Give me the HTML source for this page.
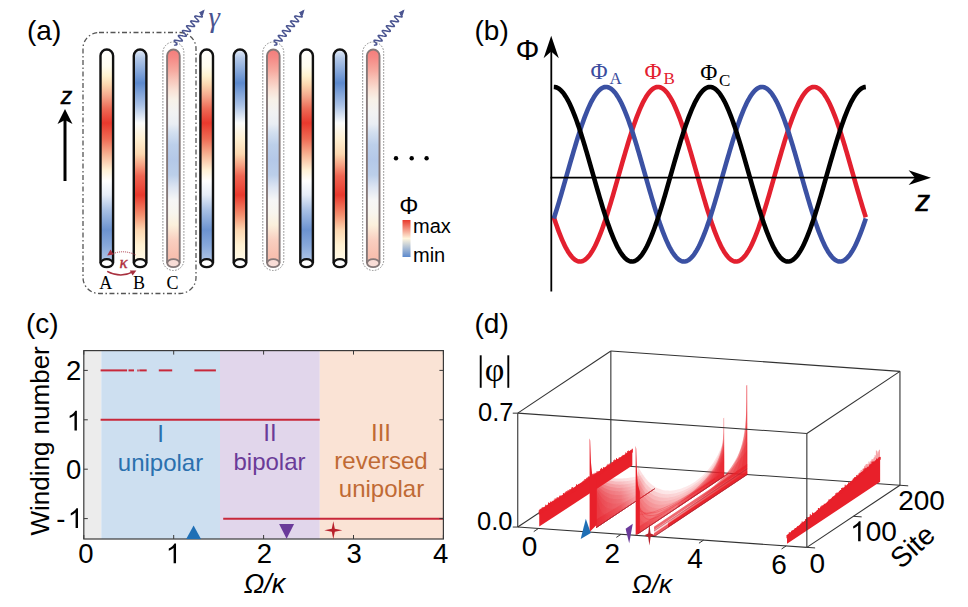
<!DOCTYPE html>
<html><head><meta charset="utf-8"><style>html,body{margin:0;padding:0;background:#fff;}svg{display:block;}</style></head>
<body><svg width="968" height="607" viewBox="0 0 968 607">
<defs><linearGradient id="gA" gradientUnits="userSpaceOnUse" x1="0" y1="48" x2="0" y2="263"><stop offset="0.0000" stop-color="#ffffff"/><stop offset="0.0837" stop-color="#fffdf0"/><stop offset="0.1302" stop-color="#fff3cf"/><stop offset="0.1721" stop-color="#fcd6ae"/><stop offset="0.2233" stop-color="#f5a88c"/><stop offset="0.2837" stop-color="#ee6a55"/><stop offset="0.3488" stop-color="#e9392d"/><stop offset="0.4233" stop-color="#ef6c55"/><stop offset="0.4977" stop-color="#f7b595"/><stop offset="0.5674" stop-color="#fff1d6"/><stop offset="0.6186" stop-color="#ffffff"/><stop offset="0.6837" stop-color="#e6edf8"/><stop offset="0.7535" stop-color="#a9c1e5"/><stop offset="0.8465" stop-color="#6c93d0"/><stop offset="0.9163" stop-color="#86a7da"/><stop offset="1.0000" stop-color="#b2c8e8"/></linearGradient><linearGradient id="gB" gradientUnits="userSpaceOnUse" x1="0" y1="48" x2="0" y2="263"><stop offset="0.0000" stop-color="#eef2fa"/><stop offset="0.0465" stop-color="#b4c9e8"/><stop offset="0.1628" stop-color="#5c89cd"/><stop offset="0.2651" stop-color="#a9c1e5"/><stop offset="0.3488" stop-color="#fbfcfb"/><stop offset="0.4233" stop-color="#fff0d2"/><stop offset="0.4930" stop-color="#fcd8b0"/><stop offset="0.5442" stop-color="#f6a283"/><stop offset="0.5953" stop-color="#ef6552"/><stop offset="0.6837" stop-color="#e9392d"/><stop offset="0.7767" stop-color="#f4906f"/><stop offset="0.8465" stop-color="#fcd6b0"/><stop offset="0.9163" stop-color="#fff1d2"/><stop offset="1.0000" stop-color="#fffbeb"/></linearGradient><linearGradient id="gC" gradientUnits="userSpaceOnUse" x1="0" y1="48" x2="0" y2="263"><stop offset="0.0000" stop-color="#f47a78"/><stop offset="0.0465" stop-color="#f58a86"/><stop offset="0.1023" stop-color="#f6a89e"/><stop offset="0.1488" stop-color="#f8c6ba"/><stop offset="0.1953" stop-color="#f9e0d4"/><stop offset="0.2419" stop-color="#f7f1e8"/><stop offset="0.2977" stop-color="#f2f2f2"/><stop offset="0.3535" stop-color="#eaeef4"/><stop offset="0.3907" stop-color="#d4e0f0"/><stop offset="0.4512" stop-color="#bccfea"/><stop offset="0.5209" stop-color="#b4c8e8"/><stop offset="0.5907" stop-color="#bccfea"/><stop offset="0.6465" stop-color="#dce4f2"/><stop offset="0.7070" stop-color="#f6f6f6"/><stop offset="0.7674" stop-color="#f8f5ee"/><stop offset="0.8233" stop-color="#fbf0dc"/><stop offset="0.8930" stop-color="#f9cfc0"/><stop offset="0.9628" stop-color="#f8c0b0"/><stop offset="1.0000" stop-color="#f6bcae"/></linearGradient><linearGradient id="gBar" x1="0" y1="0" x2="0" y2="1"><stop offset="0.0000" stop-color="#e8382c"/><stop offset="0.5000" stop-color="#fff5dc"/><stop offset="1.0000" stop-color="#5c89cd"/></linearGradient><linearGradient id="m1s" gradientUnits="userSpaceOnUse" x1="14" y1="0" x2="120" y2="0"><stop offset="0" stop-color="#fff" stop-opacity="1"/><stop offset="0.5" stop-color="#fff" stop-opacity="0.8"/><stop offset="0.8" stop-color="#fff" stop-opacity="0.45"/><stop offset="1" stop-color="#fff" stop-opacity="0"/></linearGradient><mask id="mk1" maskUnits="userSpaceOnUse" x="-50" y="-50" width="400" height="200"><rect x="-50" y="-50" width="400" height="200" fill="url(#m1s)"/></mask><linearGradient id="z2" gradientUnits="userSpaceOnUse" x1="0" y1="0" x2="0" y2="30"><stop offset="0" stop-color="#e8202a" stop-opacity="0.6"/><stop offset="0.3" stop-color="#e8202a" stop-opacity="0.35"/><stop offset="1" stop-color="#e8202a" stop-opacity="0.08"/></linearGradient><linearGradient id="m2s" gradientUnits="userSpaceOnUse" x1="0" y1="0" x2="190" y2="0"><stop offset="0" stop-color="#fff" stop-opacity="1"/><stop offset="0.25" stop-color="#fff" stop-opacity="0.8"/><stop offset="0.5" stop-color="#fff" stop-opacity="0.65"/><stop offset="0.8" stop-color="#fff" stop-opacity="0.8"/><stop offset="1" stop-color="#fff" stop-opacity="1"/></linearGradient><mask id="mk2" maskUnits="userSpaceOnUse" x="-50" y="-50" width="400" height="200"><rect x="-50" y="-50" width="400" height="200" fill="url(#m2s)"/></mask><linearGradient id="c2" gradientUnits="userSpaceOnUse" x1="0" y1="0" x2="190" y2="0"><stop offset="0" stop-color="#e8202a" stop-opacity="1"/><stop offset="0.3" stop-color="#e8202a" stop-opacity="0.85"/><stop offset="0.55" stop-color="#e8202a" stop-opacity="0.6"/><stop offset="0.8" stop-color="#e8202a" stop-opacity="0.75"/><stop offset="1" stop-color="#e8202a" stop-opacity="0.9"/></linearGradient></defs>
<rect width="968" height="607" fill="#fff"/>
<text x="27" y="39.7" font-size="28" font-family="'Liberation Sans', sans-serif">(a)</text>
<line x1="65" y1="181" x2="65" y2="118" stroke="#000" stroke-width="3"/>
<path d="M65 109 L72.5 124 L65 120 L57.5 124 Z" fill="#000"/>
<text x="66.5" y="103.6" font-size="23" text-anchor="middle" font-family="'Liberation Sans', sans-serif" font-style="italic" stroke="#000" stroke-width="0.5">z</text>
<rect x="83" y="32.5" width="113" height="261" rx="16" fill="none" stroke="#555" stroke-width="1.3" stroke-dasharray="5 2.5 1.5 2.5"/>
<path d="M100.50 263.2 L100.50 55.8 A6.3 6.3 0 0 1 113.10 55.8 L113.10 263.2 Z" fill="url(#gA)" stroke="none"/>
<path d="M100.50 263.2 L100.50 55.8 A6.3 6.3 0 0 1 113.10 55.8 L113.10 263.2" fill="none" stroke="#111" stroke-width="2.4"/>
<ellipse cx="106.80" cy="263.2" rx="6.1" ry="4" fill="#fff" stroke="#111" stroke-width="2.3"/>
<path d="M133.80 263.2 L133.80 55.8 A6.3 6.3 0 0 1 146.40 55.8 L146.40 263.2 Z" fill="url(#gB)" stroke="none"/>
<path d="M133.80 263.2 L133.80 55.8 A6.3 6.3 0 0 1 146.40 55.8 L146.40 263.2" fill="none" stroke="#111" stroke-width="2.4"/>
<ellipse cx="140.10" cy="263.2" rx="6.1" ry="4" fill="#fff" stroke="#111" stroke-width="2.3"/>
<rect x="162.9" y="42" width="21" height="228.5" rx="10.5" fill="none" stroke="#8a8a8a" stroke-width="1" stroke-dasharray="1.6 1.4"/>
<path d="M167.10 263.2 L167.10 55.8 A6.3 6.3 0 0 1 179.70 55.8 L179.70 263.2 Z" fill="url(#gC)" stroke="none"/>
<path d="M167.10 263.2 L167.10 55.8 A6.3 6.3 0 0 1 179.70 55.8 L179.70 263.2" fill="none" stroke="#857878" stroke-width="1.9"/>
<ellipse cx="173.40" cy="263.2" rx="6.1" ry="4" fill="#f8dcd6" stroke="#857878" stroke-width="1.8"/>
<path d="M200.40 263.2 L200.40 55.8 A6.3 6.3 0 0 1 213.00 55.8 L213.00 263.2 Z" fill="url(#gA)" stroke="none"/>
<path d="M200.40 263.2 L200.40 55.8 A6.3 6.3 0 0 1 213.00 55.8 L213.00 263.2" fill="none" stroke="#111" stroke-width="2.4"/>
<ellipse cx="206.70" cy="263.2" rx="6.1" ry="4" fill="#fff" stroke="#111" stroke-width="2.3"/>
<path d="M233.70 263.2 L233.70 55.8 A6.3 6.3 0 0 1 246.30 55.8 L246.30 263.2 Z" fill="url(#gB)" stroke="none"/>
<path d="M233.70 263.2 L233.70 55.8 A6.3 6.3 0 0 1 246.30 55.8 L246.30 263.2" fill="none" stroke="#111" stroke-width="2.4"/>
<ellipse cx="240.00" cy="263.2" rx="6.1" ry="4" fill="#fff" stroke="#111" stroke-width="2.3"/>
<rect x="262.8" y="42" width="21" height="228.5" rx="10.5" fill="none" stroke="#8a8a8a" stroke-width="1" stroke-dasharray="1.6 1.4"/>
<path d="M267.00 263.2 L267.00 55.8 A6.3 6.3 0 0 1 279.60 55.8 L279.60 263.2 Z" fill="url(#gC)" stroke="none"/>
<path d="M267.00 263.2 L267.00 55.8 A6.3 6.3 0 0 1 279.60 55.8 L279.60 263.2" fill="none" stroke="#857878" stroke-width="1.9"/>
<ellipse cx="273.30" cy="263.2" rx="6.1" ry="4" fill="#f8dcd6" stroke="#857878" stroke-width="1.8"/>
<path d="M300.30 263.2 L300.30 55.8 A6.3 6.3 0 0 1 312.90 55.8 L312.90 263.2 Z" fill="url(#gA)" stroke="none"/>
<path d="M300.30 263.2 L300.30 55.8 A6.3 6.3 0 0 1 312.90 55.8 L312.90 263.2" fill="none" stroke="#111" stroke-width="2.4"/>
<ellipse cx="306.60" cy="263.2" rx="6.1" ry="4" fill="#fff" stroke="#111" stroke-width="2.3"/>
<path d="M333.60 263.2 L333.60 55.8 A6.3 6.3 0 0 1 346.20 55.8 L346.20 263.2 Z" fill="url(#gB)" stroke="none"/>
<path d="M333.60 263.2 L333.60 55.8 A6.3 6.3 0 0 1 346.20 55.8 L346.20 263.2" fill="none" stroke="#111" stroke-width="2.4"/>
<ellipse cx="339.90" cy="263.2" rx="6.1" ry="4" fill="#fff" stroke="#111" stroke-width="2.3"/>
<rect x="362.7" y="42" width="21" height="228.5" rx="10.5" fill="none" stroke="#8a8a8a" stroke-width="1" stroke-dasharray="1.6 1.4"/>
<path d="M366.90 263.2 L366.90 55.8 A6.3 6.3 0 0 1 379.50 55.8 L379.50 263.2 Z" fill="url(#gC)" stroke="none"/>
<path d="M366.90 263.2 L366.90 55.8 A6.3 6.3 0 0 1 379.50 55.8 L379.50 263.2" fill="none" stroke="#857878" stroke-width="1.9"/>
<ellipse cx="373.20" cy="263.2" rx="6.1" ry="4" fill="#f8dcd6" stroke="#857878" stroke-width="1.8"/>
<path d="M174.20 45.50 L174.41 45.33 L174.72 45.20 L175.10 45.11 L175.51 45.04 L175.94 44.97 L176.34 44.89 L176.67 44.77 L176.89 44.60 L176.98 44.36 L176.92 44.06 L176.72 43.68 L176.38 43.23 L175.93 42.73 L175.41 42.20 L174.88 41.66 L174.47 41.18 L174.27 40.80 L174.26 40.51 L174.43 40.32 L174.79 40.22 L175.33 40.21 L176.03 40.28 L176.84 40.40 L177.73 40.56 L178.65 40.73 L179.55 40.90 L180.38 41.03 L181.11 41.11 L181.69 41.12 L182.09 41.04 L182.31 40.87 L182.34 40.60 L182.18 40.25 L181.87 39.81 L181.42 39.31 L180.88 38.77 L180.30 38.20 L179.72 37.64 L179.19 37.10 L178.76 36.61 L178.47 36.19 L178.34 35.85 L178.40 35.59 L178.64 35.44 L179.08 35.37 L179.68 35.39 L180.42 35.48 L181.27 35.62 L182.18 35.79 L183.10 35.97 L183.98 36.12 L184.77 36.24 L185.45 36.29 L185.96 36.27 L186.30 36.15 L186.44 35.94 L186.40 35.64 L186.17 35.26 L185.80 34.79 L185.32 34.28 L184.75 33.72 L184.17 33.15 L183.60 32.60 L183.11 32.07 L182.73 31.61 L182.49 31.21 L182.43 30.90 L182.56 30.69 L182.88 30.57 L183.39 30.54 L184.05 30.59 L184.84 30.70 L185.71 30.85 L186.63 31.02 L187.54 31.19 L188.39 31.34 L189.14 31.43 L189.76 31.46 L190.21 31.40 L190.47 31.25 L190.54 31.01 L190.43 30.67 L190.14 30.25 L189.72 29.77 L189.20 29.23 L188.63 28.67 L188.04 28.10 L187.50 27.55 L187.04 27.05 L186.71 26.61 L186.55 26.25 L186.56 25.98 L186.76 25.80 L187.15 25.71 L187.72 25.71 L188.43 25.79 L189.26 25.92 L190.16 26.08 L191.08 26.26 L191.97 26.42 L192.79 26.55 L193.50 26.62 L194.05 26.61 L194.43 26.52 L194.62 26.33 L194.61 26.05 L194.43 25.68 L194.09 25.24 L193.63 24.73 L193.08 24.18 L192.49 23.61 L191.92 23.05 L191.41 22.52 L190.99 22.04 L190.72 21.63 L190.62 21.30 L190.71 21.06 L190.99 20.92 L191.45 20.87 L192.07 20.90 L192.84 21.00 L193.70 21.14 L194.61 21.32 L195.52 21.49 L196.39 21.64 L197.17 21.75 L197.82 21.79 L198.31 21.75 L198.62 21.62 L198.73 21.40 L198.66 21.09 L198.41 20.69 L198.02 20.22 L197.52 19.69 L196.95 19.13 L196.37 18.56 L195.81 18.01 L195.33 17.49 L194.97 17.04 L194.76 16.66 L194.73 16.36 L194.89 16.16 L195.24 16.06 L195.77 16.04 L196.45 16.10 L197.25 16.22 L198.14 16.37 L199.06 16.55 L199.96 16.72 L200.80 16.85 L201.54 16.94 L202.09 16.93 L202.26 16.74 L202.23 16.45 L202.05 16.08 L201.78 15.66 L201.47 15.23 L201.17 14.81 L200.94 14.42 L200.82 14.08 L203.41 11.03" fill="none" stroke="#4a5490" stroke-width="1.5" stroke-linejoin="round"/>
<path d="M204.70 9.50 L202.81 15.76 L198.84 12.40 Z" fill="#4a5490"/>
<path d="M274.10 45.50 L274.31 45.33 L274.62 45.20 L275.00 45.11 L275.41 45.04 L275.84 44.97 L276.24 44.89 L276.57 44.77 L276.79 44.60 L276.88 44.36 L276.82 44.06 L276.62 43.68 L276.28 43.23 L275.83 42.73 L275.31 42.20 L274.78 41.66 L274.37 41.18 L274.17 40.80 L274.16 40.51 L274.33 40.32 L274.69 40.22 L275.23 40.21 L275.93 40.28 L276.74 40.40 L277.63 40.56 L278.55 40.73 L279.45 40.90 L280.28 41.03 L281.01 41.11 L281.59 41.12 L281.99 41.04 L282.21 40.87 L282.24 40.60 L282.08 40.25 L281.77 39.81 L281.32 39.31 L280.78 38.77 L280.20 38.20 L279.62 37.64 L279.09 37.10 L278.66 36.61 L278.37 36.19 L278.24 35.85 L278.30 35.59 L278.54 35.44 L278.98 35.37 L279.58 35.39 L280.32 35.48 L281.17 35.62 L282.08 35.79 L283.00 35.97 L283.88 36.12 L284.67 36.24 L285.35 36.29 L285.86 36.27 L286.20 36.15 L286.34 35.94 L286.30 35.64 L286.07 35.26 L285.70 34.79 L285.22 34.28 L284.65 33.72 L284.07 33.15 L283.50 32.60 L283.01 32.07 L282.63 31.61 L282.39 31.21 L282.33 30.90 L282.46 30.69 L282.78 30.57 L283.29 30.54 L283.95 30.59 L284.74 30.70 L285.61 30.85 L286.53 31.02 L287.44 31.19 L288.29 31.34 L289.04 31.43 L289.66 31.46 L290.11 31.40 L290.37 31.25 L290.44 31.01 L290.33 30.67 L290.04 30.25 L289.62 29.77 L289.10 29.23 L288.53 28.67 L287.94 28.10 L287.40 27.55 L286.94 27.05 L286.61 26.61 L286.45 26.25 L286.46 25.98 L286.66 25.80 L287.05 25.71 L287.62 25.71 L288.33 25.79 L289.16 25.92 L290.06 26.08 L290.98 26.26 L291.87 26.42 L292.69 26.55 L293.40 26.62 L293.95 26.61 L294.33 26.52 L294.52 26.33 L294.51 26.05 L294.33 25.68 L293.99 25.24 L293.53 24.73 L292.98 24.18 L292.39 23.61 L291.82 23.05 L291.31 22.52 L290.89 22.04 L290.62 21.63 L290.52 21.30 L290.61 21.06 L290.89 20.92 L291.35 20.87 L291.97 20.90 L292.74 21.00 L293.60 21.14 L294.51 21.32 L295.42 21.49 L296.29 21.64 L297.07 21.75 L297.72 21.79 L298.21 21.75 L298.52 21.62 L298.63 21.40 L298.56 21.09 L298.31 20.69 L297.92 20.22 L297.42 19.69 L296.85 19.13 L296.27 18.56 L295.71 18.01 L295.23 17.49 L294.87 17.04 L294.66 16.66 L294.63 16.36 L294.79 16.16 L295.14 16.06 L295.67 16.04 L296.35 16.10 L297.15 16.22 L298.04 16.37 L298.96 16.55 L299.86 16.72 L300.70 16.85 L301.44 16.94 L301.99 16.93 L302.16 16.74 L302.13 16.45 L301.95 16.08 L301.68 15.66 L301.37 15.23 L301.07 14.81 L300.84 14.42 L300.72 14.08 L303.31 11.03" fill="none" stroke="#4a5490" stroke-width="1.5" stroke-linejoin="round"/>
<path d="M304.60 9.50 L302.71 15.76 L298.74 12.40 Z" fill="#4a5490"/>
<path d="M374.00 45.50 L374.21 45.33 L374.52 45.20 L374.90 45.11 L375.31 45.04 L375.74 44.97 L376.14 44.89 L376.47 44.77 L376.69 44.60 L376.78 44.36 L376.72 44.06 L376.52 43.68 L376.18 43.23 L375.73 42.73 L375.21 42.20 L374.68 41.66 L374.27 41.18 L374.07 40.80 L374.06 40.51 L374.23 40.32 L374.59 40.22 L375.13 40.21 L375.83 40.28 L376.64 40.40 L377.53 40.56 L378.45 40.73 L379.35 40.90 L380.18 41.03 L380.91 41.11 L381.49 41.12 L381.89 41.04 L382.11 40.87 L382.14 40.60 L381.98 40.25 L381.67 39.81 L381.22 39.31 L380.68 38.77 L380.10 38.20 L379.52 37.64 L378.99 37.10 L378.56 36.61 L378.27 36.19 L378.14 35.85 L378.20 35.59 L378.44 35.44 L378.88 35.37 L379.48 35.39 L380.22 35.48 L381.07 35.62 L381.98 35.79 L382.90 35.97 L383.78 36.12 L384.57 36.24 L385.25 36.29 L385.76 36.27 L386.10 36.15 L386.24 35.94 L386.20 35.64 L385.97 35.26 L385.60 34.79 L385.12 34.28 L384.55 33.72 L383.97 33.15 L383.40 32.60 L382.91 32.07 L382.53 31.61 L382.29 31.21 L382.23 30.90 L382.36 30.69 L382.68 30.57 L383.19 30.54 L383.85 30.59 L384.64 30.70 L385.51 30.85 L386.43 31.02 L387.34 31.19 L388.19 31.34 L388.94 31.43 L389.56 31.46 L390.01 31.40 L390.27 31.25 L390.34 31.01 L390.23 30.67 L389.94 30.25 L389.52 29.77 L389.00 29.23 L388.43 28.67 L387.84 28.10 L387.30 27.55 L386.84 27.05 L386.51 26.61 L386.35 26.25 L386.36 25.98 L386.56 25.80 L386.95 25.71 L387.52 25.71 L388.23 25.79 L389.06 25.92 L389.96 26.08 L390.88 26.26 L391.77 26.42 L392.59 26.55 L393.30 26.62 L393.85 26.61 L394.23 26.52 L394.42 26.33 L394.41 26.05 L394.23 25.68 L393.89 25.24 L393.43 24.73 L392.88 24.18 L392.29 23.61 L391.72 23.05 L391.21 22.52 L390.79 22.04 L390.52 21.63 L390.42 21.30 L390.51 21.06 L390.79 20.92 L391.25 20.87 L391.87 20.90 L392.64 21.00 L393.50 21.14 L394.41 21.32 L395.32 21.49 L396.19 21.64 L396.97 21.75 L397.62 21.79 L398.11 21.75 L398.42 21.62 L398.53 21.40 L398.46 21.09 L398.21 20.69 L397.82 20.22 L397.32 19.69 L396.75 19.13 L396.17 18.56 L395.61 18.01 L395.13 17.49 L394.77 17.04 L394.56 16.66 L394.53 16.36 L394.69 16.16 L395.04 16.06 L395.57 16.04 L396.25 16.10 L397.05 16.22 L397.94 16.37 L398.86 16.55 L399.76 16.72 L400.60 16.85 L401.34 16.94 L401.89 16.93 L402.06 16.74 L402.03 16.45 L401.85 16.08 L401.58 15.66 L401.27 15.23 L400.97 14.81 L400.74 14.42 L400.62 14.08 L403.21 11.03" fill="none" stroke="#4a5490" stroke-width="1.5" stroke-linejoin="round"/>
<path d="M404.50 9.50 L402.61 15.76 L398.64 12.40 Z" fill="#4a5490"/>
<text x="208.5" y="26.5" font-size="29" fill="#4a5490" font-family="'Liberation Serif', serif" font-style="italic">γ</text>
<path d="M107.2 271.3 Q120.5 278.5 133.5 271.6" fill="none" stroke="#a8303f" stroke-width="1.5"/>
<path d="M136.4 270.4 L129.8 270.6 L132.6 275.6 Z" fill="#a8303f"/>
<path d="M135.5 254.8 Q124 249.5 113.5 253.5" fill="none" stroke="#a8303f" stroke-width="1" stroke-dasharray="1 1"/>
<path d="M107.2 255.4 L110.5 249.6 L113.6 254.4 Z" fill="#a8303f"/>
<text x="123.5" y="268.3" font-size="17" fill="#b0303f" stroke="#b0303f" stroke-width="0.4" text-anchor="middle" font-family="'Liberation Serif', serif" font-style="italic">κ</text>
<text x="105.8" y="288.5" font-size="18" text-anchor="middle" font-family="'Liberation Serif', serif">A</text>
<text x="139.1" y="288.5" font-size="18" text-anchor="middle" font-family="'Liberation Serif', serif">B</text>
<text x="172.4" y="288.5" font-size="18" text-anchor="middle" font-family="'Liberation Serif', serif">C</text>
<circle cx="396" cy="158.2" r="2.2" fill="#000"/>
<circle cx="411.7" cy="158.2" r="2.2" fill="#000"/>
<circle cx="426.6" cy="158.2" r="2.2" fill="#000"/>
<text x="399.2" y="214.3" font-size="24" font-family="'Liberation Sans', sans-serif">Φ</text>
<rect x="402.5" y="220" width="8" height="37" fill="url(#gBar)"/>
<text x="413" y="233" font-size="20" font-family="'Liberation Sans', sans-serif">max</text>
<text x="413" y="261.8" font-size="20" font-family="'Liberation Sans', sans-serif">min</text>
<text x="474.5" y="40" font-size="28" font-family="'Liberation Sans', sans-serif">(b)</text>
<text x="515.5" y="60.3" font-size="30" font-family="'Liberation Sans', sans-serif">Φ</text>
<text x="915.5" y="210.5" font-size="29" font-family="'Liberation Sans', sans-serif" font-style="italic" stroke="#000" stroke-width="0.7">z</text>
<path d="M553.80 217.26 L554.80 220.29 L555.80 223.23 L556.80 226.10 L557.80 228.88 L558.80 231.58 L559.80 234.18 L560.80 236.69 L561.80 239.09 L562.80 241.39 L563.80 243.58 L564.80 245.65 L565.80 247.61 L566.80 249.46 L567.80 251.18 L568.80 252.77 L569.80 254.24 L570.80 255.58 L571.80 256.78 L572.80 257.86 L573.80 258.79 L574.80 259.59 L575.80 260.25 L576.80 260.78 L577.80 261.16 L578.80 261.40 L579.80 261.50 L580.80 261.45 L581.80 261.27 L582.80 260.95 L583.80 260.48 L584.80 259.87 L585.80 259.13 L586.80 258.25 L587.80 257.23 L588.80 256.08 L589.80 254.79 L590.80 253.37 L591.80 251.83 L592.80 250.16 L593.80 248.37 L594.80 246.45 L595.80 244.42 L596.80 242.28 L597.80 240.02 L598.80 237.66 L599.80 235.20 L600.80 232.63 L601.80 229.97 L602.80 227.22 L603.80 224.39 L604.80 221.47 L605.80 218.48 L606.80 215.42 L607.80 212.29 L608.80 209.09 L609.80 205.85 L610.80 202.55 L611.80 199.20 L612.80 195.81 L613.80 192.39 L614.80 188.94 L615.80 185.46 L616.80 181.97 L617.80 178.47 L618.80 174.95 L619.80 171.44 L620.80 167.93 L621.80 164.43 L622.80 160.95 L623.80 157.49 L624.80 154.05 L625.80 150.65 L626.80 147.29 L627.80 143.97 L628.80 140.70 L629.80 137.48 L630.80 134.33 L631.80 131.24 L632.80 128.21 L633.80 125.27 L634.80 122.40 L635.80 119.62 L636.80 116.92 L637.80 114.32 L638.80 111.81 L639.80 109.41 L640.80 107.11 L641.80 104.92 L642.80 102.85 L643.80 100.89 L644.80 99.04 L645.80 97.32 L646.80 95.73 L647.80 94.26 L648.80 92.92 L649.80 91.72 L650.80 90.64 L651.80 89.71 L652.80 88.91 L653.80 88.25 L654.80 87.72 L655.80 87.34 L656.80 87.10 L657.80 87.00 L658.80 87.05 L659.80 87.23 L660.80 87.55 L661.80 88.02 L662.80 88.63 L663.80 89.37 L664.80 90.25 L665.80 91.27 L666.80 92.42 L667.80 93.71 L668.80 95.13 L669.80 96.67 L670.80 98.34 L671.80 100.13 L672.80 102.05 L673.80 104.08 L674.80 106.22 L675.80 108.48 L676.80 110.84 L677.80 113.30 L678.80 115.87 L679.80 118.53 L680.80 121.28 L681.80 124.11 L682.80 127.03 L683.80 130.02 L684.80 133.08 L685.80 136.21 L686.80 139.41 L687.80 142.65 L688.80 145.95 L689.80 149.30 L690.80 152.69 L691.80 156.11 L692.80 159.56 L693.80 163.04 L694.80 166.53 L695.80 170.03 L696.80 173.55 L697.80 177.06 L698.80 180.57 L699.80 184.07 L700.80 187.55 L701.80 191.01 L702.80 194.45 L703.80 197.85 L704.80 201.21 L705.80 204.53 L706.80 207.80 L707.80 211.02 L708.80 214.17 L709.80 217.26 L710.80 220.29 L711.80 223.23 L712.80 226.10 L713.80 228.88 L714.80 231.58 L715.80 234.18 L716.80 236.69 L717.80 239.09 L718.80 241.39 L719.80 243.58 L720.80 245.65 L721.80 247.61 L722.80 249.46 L723.80 251.18 L724.80 252.77 L725.80 254.24 L726.80 255.58 L727.80 256.78 L728.80 257.86 L729.80 258.79 L730.80 259.59 L731.80 260.25 L732.80 260.78 L733.80 261.16 L734.80 261.40 L735.80 261.50 L736.80 261.45 L737.80 261.27 L738.80 260.95 L739.80 260.48 L740.80 259.87 L741.80 259.13 L742.80 258.25 L743.80 257.23 L744.80 256.08 L745.80 254.79 L746.80 253.37 L747.80 251.83 L748.80 250.16 L749.80 248.37 L750.80 246.45 L751.80 244.42 L752.80 242.28 L753.80 240.02 L754.80 237.66 L755.80 235.20 L756.80 232.63 L757.80 229.97 L758.80 227.22 L759.80 224.39 L760.80 221.47 L761.80 218.48 L762.80 215.42 L763.80 212.29 L764.80 209.09 L765.80 205.85 L766.80 202.55 L767.80 199.20 L768.80 195.81 L769.80 192.39 L770.80 188.94 L771.80 185.46 L772.80 181.97 L773.80 178.47 L774.80 174.95 L775.80 171.44 L776.80 167.93 L777.80 164.43 L778.80 160.95 L779.80 157.49 L780.80 154.05 L781.80 150.65 L782.80 147.29 L783.80 143.97 L784.80 140.70 L785.80 137.48 L786.80 134.33 L787.80 131.24 L788.80 128.21 L789.80 125.27 L790.80 122.40 L791.80 119.62 L792.80 116.92 L793.80 114.32 L794.80 111.81 L795.80 109.41 L796.80 107.11 L797.80 104.92 L798.80 102.85 L799.80 100.89 L800.80 99.04 L801.80 97.32 L802.80 95.73 L803.80 94.26 L804.80 92.92 L805.80 91.72 L806.80 90.64 L807.80 89.71 L808.80 88.91 L809.80 88.25 L810.80 87.72 L811.80 87.34 L812.80 87.10 L813.80 87.00 L814.80 87.05 L815.80 87.23 L816.80 87.55 L817.80 88.02 L818.80 88.63 L819.80 89.37 L820.80 90.25 L821.80 91.27 L822.80 92.42 L823.80 93.71 L824.80 95.13 L825.80 96.67 L826.80 98.34 L827.80 100.13 L828.80 102.05 L829.80 104.08 L830.80 106.22 L831.80 108.48 L832.80 110.84 L833.80 113.30 L834.80 115.87 L835.80 118.53 L836.80 121.28 L837.80 124.11 L838.80 127.03 L839.80 130.02 L840.80 133.08 L841.80 136.21 L842.80 139.41 L843.80 142.65 L844.80 145.95 L845.80 149.30 L846.80 152.69 L847.80 156.11 L848.80 159.56 L849.80 163.04 L850.80 166.53 L851.80 170.03 L852.80 173.55 L853.80 177.06 L854.80 180.57 L855.80 184.07 L856.80 187.55 L857.80 191.01 L858.80 194.45 L859.80 197.85 L860.80 201.21 L861.80 204.53 L862.80 207.80 L863.80 211.02 L864.80 214.17 L865.80 217.26" fill="none" stroke="#e3202f" stroke-width="4.6" stroke-linejoin="round"/>
<path d="M553.80 218.48 L554.80 215.42 L555.80 212.29 L556.80 209.09 L557.80 205.85 L558.80 202.55 L559.80 199.20 L560.80 195.81 L561.80 192.39 L562.80 188.94 L563.80 185.46 L564.80 181.97 L565.80 178.47 L566.80 174.95 L567.80 171.44 L568.80 167.93 L569.80 164.43 L570.80 160.95 L571.80 157.49 L572.80 154.05 L573.80 150.65 L574.80 147.29 L575.80 143.97 L576.80 140.70 L577.80 137.48 L578.80 134.33 L579.80 131.24 L580.80 128.21 L581.80 125.27 L582.80 122.40 L583.80 119.62 L584.80 116.92 L585.80 114.32 L586.80 111.81 L587.80 109.41 L588.80 107.11 L589.80 104.92 L590.80 102.85 L591.80 100.89 L592.80 99.04 L593.80 97.32 L594.80 95.73 L595.80 94.26 L596.80 92.92 L597.80 91.72 L598.80 90.64 L599.80 89.71 L600.80 88.91 L601.80 88.25 L602.80 87.72 L603.80 87.34 L604.80 87.10 L605.80 87.00 L606.80 87.05 L607.80 87.23 L608.80 87.55 L609.80 88.02 L610.80 88.63 L611.80 89.37 L612.80 90.25 L613.80 91.27 L614.80 92.42 L615.80 93.71 L616.80 95.13 L617.80 96.67 L618.80 98.34 L619.80 100.13 L620.80 102.05 L621.80 104.08 L622.80 106.22 L623.80 108.48 L624.80 110.84 L625.80 113.30 L626.80 115.87 L627.80 118.53 L628.80 121.28 L629.80 124.11 L630.80 127.03 L631.80 130.02 L632.80 133.08 L633.80 136.21 L634.80 139.41 L635.80 142.65 L636.80 145.95 L637.80 149.30 L638.80 152.69 L639.80 156.11 L640.80 159.56 L641.80 163.04 L642.80 166.53 L643.80 170.03 L644.80 173.55 L645.80 177.06 L646.80 180.57 L647.80 184.07 L648.80 187.55 L649.80 191.01 L650.80 194.45 L651.80 197.85 L652.80 201.21 L653.80 204.53 L654.80 207.80 L655.80 211.02 L656.80 214.17 L657.80 217.26 L658.80 220.29 L659.80 223.23 L660.80 226.10 L661.80 228.88 L662.80 231.58 L663.80 234.18 L664.80 236.69 L665.80 239.09 L666.80 241.39 L667.80 243.58 L668.80 245.65 L669.80 247.61 L670.80 249.46 L671.80 251.18 L672.80 252.77 L673.80 254.24 L674.80 255.58 L675.80 256.78 L676.80 257.86 L677.80 258.79 L678.80 259.59 L679.80 260.25 L680.80 260.78 L681.80 261.16 L682.80 261.40 L683.80 261.50 L684.80 261.45 L685.80 261.27 L686.80 260.95 L687.80 260.48 L688.80 259.87 L689.80 259.13 L690.80 258.25 L691.80 257.23 L692.80 256.08 L693.80 254.79 L694.80 253.37 L695.80 251.83 L696.80 250.16 L697.80 248.37 L698.80 246.45 L699.80 244.42 L700.80 242.28 L701.80 240.02 L702.80 237.66 L703.80 235.20 L704.80 232.63 L705.80 229.97 L706.80 227.22 L707.80 224.39 L708.80 221.47 L709.80 218.48 L710.80 215.42 L711.80 212.29 L712.80 209.09 L713.80 205.85 L714.80 202.55 L715.80 199.20 L716.80 195.81 L717.80 192.39 L718.80 188.94 L719.80 185.46 L720.80 181.97 L721.80 178.47 L722.80 174.95 L723.80 171.44 L724.80 167.93 L725.80 164.43 L726.80 160.95 L727.80 157.49 L728.80 154.05 L729.80 150.65 L730.80 147.29 L731.80 143.97 L732.80 140.70 L733.80 137.48 L734.80 134.33 L735.80 131.24 L736.80 128.21 L737.80 125.27 L738.80 122.40 L739.80 119.62 L740.80 116.92 L741.80 114.32 L742.80 111.81 L743.80 109.41 L744.80 107.11 L745.80 104.92 L746.80 102.85 L747.80 100.89 L748.80 99.04 L749.80 97.32 L750.80 95.73 L751.80 94.26 L752.80 92.92 L753.80 91.72 L754.80 90.64 L755.80 89.71 L756.80 88.91 L757.80 88.25 L758.80 87.72 L759.80 87.34 L760.80 87.10 L761.80 87.00 L762.80 87.05 L763.80 87.23 L764.80 87.55 L765.80 88.02 L766.80 88.63 L767.80 89.37 L768.80 90.25 L769.80 91.27 L770.80 92.42 L771.80 93.71 L772.80 95.13 L773.80 96.67 L774.80 98.34 L775.80 100.13 L776.80 102.05 L777.80 104.08 L778.80 106.22 L779.80 108.48 L780.80 110.84 L781.80 113.30 L782.80 115.87 L783.80 118.53 L784.80 121.28 L785.80 124.11 L786.80 127.03 L787.80 130.02 L788.80 133.08 L789.80 136.21 L790.80 139.41 L791.80 142.65 L792.80 145.95 L793.80 149.30 L794.80 152.69 L795.80 156.11 L796.80 159.56 L797.80 163.04 L798.80 166.53 L799.80 170.03 L800.80 173.55 L801.80 177.06 L802.80 180.57 L803.80 184.07 L804.80 187.55 L805.80 191.01 L806.80 194.45 L807.80 197.85 L808.80 201.21 L809.80 204.53 L810.80 207.80 L811.80 211.02 L812.80 214.17 L813.80 217.26 L814.80 220.29 L815.80 223.23 L816.80 226.10 L817.80 228.88 L818.80 231.58 L819.80 234.18 L820.80 236.69 L821.80 239.09 L822.80 241.39 L823.80 243.58 L824.80 245.65 L825.80 247.61 L826.80 249.46 L827.80 251.18 L828.80 252.77 L829.80 254.24 L830.80 255.58 L831.80 256.78 L832.80 257.86 L833.80 258.79 L834.80 259.59 L835.80 260.25 L836.80 260.78 L837.80 261.16 L838.80 261.40 L839.80 261.50 L840.80 261.45 L841.80 261.27 L842.80 260.95 L843.80 260.48 L844.80 259.87 L845.80 259.13 L846.80 258.25 L847.80 257.23 L848.80 256.08 L849.80 254.79 L850.80 253.37 L851.80 251.83 L852.80 250.16 L853.80 248.37 L854.80 246.45 L855.80 244.42 L856.80 242.28 L857.80 240.02 L858.80 237.66 L859.80 235.20 L860.80 232.63 L861.80 229.97 L862.80 227.22 L863.80 224.39 L864.80 221.47 L865.80 218.48" fill="none" stroke="#3b51a3" stroke-width="4.6" stroke-linejoin="round"/>
<path d="M553.80 87.00 L554.80 87.05 L555.80 87.23 L556.80 87.55 L557.80 88.02 L558.80 88.63 L559.80 89.37 L560.80 90.25 L561.80 91.27 L562.80 92.42 L563.80 93.71 L564.80 95.13 L565.80 96.67 L566.80 98.34 L567.80 100.13 L568.80 102.05 L569.80 104.08 L570.80 106.22 L571.80 108.48 L572.80 110.84 L573.80 113.30 L574.80 115.87 L575.80 118.53 L576.80 121.28 L577.80 124.11 L578.80 127.03 L579.80 130.02 L580.80 133.08 L581.80 136.21 L582.80 139.41 L583.80 142.65 L584.80 145.95 L585.80 149.30 L586.80 152.69 L587.80 156.11 L588.80 159.56 L589.80 163.04 L590.80 166.53 L591.80 170.03 L592.80 173.55 L593.80 177.06 L594.80 180.57 L595.80 184.07 L596.80 187.55 L597.80 191.01 L598.80 194.45 L599.80 197.85 L600.80 201.21 L601.80 204.53 L602.80 207.80 L603.80 211.02 L604.80 214.17 L605.80 217.26 L606.80 220.29 L607.80 223.23 L608.80 226.10 L609.80 228.88 L610.80 231.58 L611.80 234.18 L612.80 236.69 L613.80 239.09 L614.80 241.39 L615.80 243.58 L616.80 245.65 L617.80 247.61 L618.80 249.46 L619.80 251.18 L620.80 252.77 L621.80 254.24 L622.80 255.58 L623.80 256.78 L624.80 257.86 L625.80 258.79 L626.80 259.59 L627.80 260.25 L628.80 260.78 L629.80 261.16 L630.80 261.40 L631.80 261.50 L632.80 261.45 L633.80 261.27 L634.80 260.95 L635.80 260.48 L636.80 259.87 L637.80 259.13 L638.80 258.25 L639.80 257.23 L640.80 256.08 L641.80 254.79 L642.80 253.37 L643.80 251.83 L644.80 250.16 L645.80 248.37 L646.80 246.45 L647.80 244.42 L648.80 242.28 L649.80 240.02 L650.80 237.66 L651.80 235.20 L652.80 232.63 L653.80 229.97 L654.80 227.22 L655.80 224.39 L656.80 221.47 L657.80 218.48 L658.80 215.42 L659.80 212.29 L660.80 209.09 L661.80 205.85 L662.80 202.55 L663.80 199.20 L664.80 195.81 L665.80 192.39 L666.80 188.94 L667.80 185.46 L668.80 181.97 L669.80 178.47 L670.80 174.95 L671.80 171.44 L672.80 167.93 L673.80 164.43 L674.80 160.95 L675.80 157.49 L676.80 154.05 L677.80 150.65 L678.80 147.29 L679.80 143.97 L680.80 140.70 L681.80 137.48 L682.80 134.33 L683.80 131.24 L684.80 128.21 L685.80 125.27 L686.80 122.40 L687.80 119.62 L688.80 116.92 L689.80 114.32 L690.80 111.81 L691.80 109.41 L692.80 107.11 L693.80 104.92 L694.80 102.85 L695.80 100.89 L696.80 99.04 L697.80 97.32 L698.80 95.73 L699.80 94.26 L700.80 92.92 L701.80 91.72 L702.80 90.64 L703.80 89.71 L704.80 88.91 L705.80 88.25 L706.80 87.72 L707.80 87.34 L708.80 87.10 L709.80 87.00 L710.80 87.05 L711.80 87.23 L712.80 87.55 L713.80 88.02 L714.80 88.63 L715.80 89.37 L716.80 90.25 L717.80 91.27 L718.80 92.42 L719.80 93.71 L720.80 95.13 L721.80 96.67 L722.80 98.34 L723.80 100.13 L724.80 102.05 L725.80 104.08 L726.80 106.22 L727.80 108.48 L728.80 110.84 L729.80 113.30 L730.80 115.87 L731.80 118.53 L732.80 121.28 L733.80 124.11 L734.80 127.03 L735.80 130.02 L736.80 133.08 L737.80 136.21 L738.80 139.41 L739.80 142.65 L740.80 145.95 L741.80 149.30 L742.80 152.69 L743.80 156.11 L744.80 159.56 L745.80 163.04 L746.80 166.53 L747.80 170.03 L748.80 173.55 L749.80 177.06 L750.80 180.57 L751.80 184.07 L752.80 187.55 L753.80 191.01 L754.80 194.45 L755.80 197.85 L756.80 201.21 L757.80 204.53 L758.80 207.80 L759.80 211.02 L760.80 214.17 L761.80 217.26 L762.80 220.29 L763.80 223.23 L764.80 226.10 L765.80 228.88 L766.80 231.58 L767.80 234.18 L768.80 236.69 L769.80 239.09 L770.80 241.39 L771.80 243.58 L772.80 245.65 L773.80 247.61 L774.80 249.46 L775.80 251.18 L776.80 252.77 L777.80 254.24 L778.80 255.58 L779.80 256.78 L780.80 257.86 L781.80 258.79 L782.80 259.59 L783.80 260.25 L784.80 260.78 L785.80 261.16 L786.80 261.40 L787.80 261.50 L788.80 261.45 L789.80 261.27 L790.80 260.95 L791.80 260.48 L792.80 259.87 L793.80 259.13 L794.80 258.25 L795.80 257.23 L796.80 256.08 L797.80 254.79 L798.80 253.37 L799.80 251.83 L800.80 250.16 L801.80 248.37 L802.80 246.45 L803.80 244.42 L804.80 242.28 L805.80 240.02 L806.80 237.66 L807.80 235.20 L808.80 232.63 L809.80 229.97 L810.80 227.22 L811.80 224.39 L812.80 221.47 L813.80 218.48 L814.80 215.42 L815.80 212.29 L816.80 209.09 L817.80 205.85 L818.80 202.55 L819.80 199.20 L820.80 195.81 L821.80 192.39 L822.80 188.94 L823.80 185.46 L824.80 181.97 L825.80 178.47 L826.80 174.95 L827.80 171.44 L828.80 167.93 L829.80 164.43 L830.80 160.95 L831.80 157.49 L832.80 154.05 L833.80 150.65 L834.80 147.29 L835.80 143.97 L836.80 140.70 L837.80 137.48 L838.80 134.33 L839.80 131.24 L840.80 128.21 L841.80 125.27 L842.80 122.40 L843.80 119.62 L844.80 116.92 L845.80 114.32 L846.80 111.81 L847.80 109.41 L848.80 107.11 L849.80 104.92 L850.80 102.85 L851.80 100.89 L852.80 99.04 L853.80 97.32 L854.80 95.73 L855.80 94.26 L856.80 92.92 L857.80 91.72 L858.80 90.64 L859.80 89.71 L860.80 88.91 L861.80 88.25 L862.80 87.72 L863.80 87.34 L864.80 87.10 L865.80 87.00" fill="none" stroke="#000" stroke-width="4.6" stroke-linejoin="round"/>
<line x1="551.3" y1="291.5" x2="551.3" y2="50" stroke="#000" stroke-width="1.8"/>
<path d="M551.2 35.8 L558.8 58.3 L551.2 51.5 L543.6 58.3 Z" fill="#000"/>
<line x1="550.5" y1="177.7" x2="918" y2="177.7" stroke="#000" stroke-width="1.8"/>
<path d="M931 177.7 L908.6 170.3 L915 177.7 L908.6 185.1 Z" fill="#000"/>
<text x="590.5" y="78.6" font-size="23.4" fill="#3b4d9e" font-family="'Liberation Serif', serif">Φ</text>
<text x="609.4" y="83.5" font-size="17" fill="#3b4d9e" font-family="'Liberation Serif', serif">A</text>
<text x="644.5" y="78.6" font-size="23.4" fill="#e3202f" font-family="'Liberation Serif', serif">Φ</text>
<text x="663.4" y="83.5" font-size="17" fill="#e3202f" font-family="'Liberation Serif', serif">B</text>
<text x="700.2" y="79.89999999999999" font-size="23.4" fill="#000" font-family="'Liberation Serif', serif">Φ</text>
<text x="719.1" y="85.6" font-size="17" fill="#000" font-family="'Liberation Serif', serif">C</text>
<text x="26" y="332.5" font-size="28" font-family="'Liberation Sans', sans-serif">(c)</text>
<rect x="83.8" y="350.6" width="17.53" height="188.39999999999998" fill="#ececec"/>
<rect x="101.33" y="350.6" width="118.67" height="188.39999999999998" fill="#cddff0"/>
<rect x="220.00" y="350.6" width="99.79" height="188.39999999999998" fill="#e1d6eb"/>
<rect x="319.79" y="350.6" width="123.61" height="188.39999999999998" fill="#fae3d5"/>
<line x1="100.6" y1="370.4" x2="127.1" y2="370.4" stroke="#c8283a" stroke-width="2"/>
<line x1="128.5" y1="370.4" x2="134" y2="370.4" stroke="#c8283a" stroke-width="2"/>
<line x1="137.3" y1="370.4" x2="138.7" y2="370.4" stroke="#c8283a" stroke-width="2"/>
<line x1="139.3" y1="370.4" x2="146.7" y2="370.4" stroke="#c8283a" stroke-width="2"/>
<line x1="158.8" y1="370.4" x2="172.2" y2="370.4" stroke="#c8283a" stroke-width="2"/>
<line x1="194.4" y1="370.4" x2="215.9" y2="370.4" stroke="#c8283a" stroke-width="2"/>
<line x1="100.6" y1="419.8" x2="319.79" y2="419.8" stroke="#c8283a" stroke-width="2"/>
<line x1="223.2" y1="518.8" x2="443.4" y2="518.8" stroke="#c8283a" stroke-width="2"/>
<rect x="83.8" y="350.6" width="359.59999999999997" height="188.39999999999998" fill="none" stroke="#3a3a3a" stroke-width="1.2"/>
<line x1="83.80" y1="539.0" x2="83.80" y2="535.0" stroke="#3a3a3a" stroke-width="1"/>
<line x1="83.80" y1="350.6" x2="83.80" y2="354.6" stroke="#3a3a3a" stroke-width="1"/>
<text x="86.00" y="563.3" font-size="27.5" text-anchor="middle" font-family="'Liberation Sans', sans-serif">0</text>
<line x1="173.70" y1="539.0" x2="173.70" y2="535.0" stroke="#3a3a3a" stroke-width="1"/>
<line x1="173.70" y1="350.6" x2="173.70" y2="354.6" stroke="#3a3a3a" stroke-width="1"/>
<path transform="translate(165.78 563.30) scale(0.01343 -0.01343)" d="M763 0H583V1147Q518 1085 412.5 1023T223 930V1104Q374 1175 487 1276T647 1472H763Z" fill="#000"/>
<line x1="263.60" y1="539.0" x2="263.60" y2="535.0" stroke="#3a3a3a" stroke-width="1"/>
<line x1="263.60" y1="350.6" x2="263.60" y2="354.6" stroke="#3a3a3a" stroke-width="1"/>
<text x="264.40" y="563.3" font-size="27.5" text-anchor="middle" font-family="'Liberation Sans', sans-serif">2</text>
<line x1="353.50" y1="539.0" x2="353.50" y2="535.0" stroke="#3a3a3a" stroke-width="1"/>
<line x1="353.50" y1="350.6" x2="353.50" y2="354.6" stroke="#3a3a3a" stroke-width="1"/>
<text x="354.20" y="563.3" font-size="27.5" text-anchor="middle" font-family="'Liberation Sans', sans-serif">3</text>
<line x1="443.40" y1="539.0" x2="443.40" y2="535.0" stroke="#3a3a3a" stroke-width="1"/>
<line x1="443.40" y1="350.6" x2="443.40" y2="354.6" stroke="#3a3a3a" stroke-width="1"/>
<text x="440.60" y="563.3" font-size="27.5" text-anchor="middle" font-family="'Liberation Sans', sans-serif">4</text>
<line x1="83.8" y1="518.60" x2="87.8" y2="518.60" stroke="#3a3a3a" stroke-width="1"/>
<line x1="443.4" y1="518.60" x2="439.4" y2="518.60" stroke="#3a3a3a" stroke-width="1"/>
<path transform="translate(67.75 528.00) scale(0.01343 -0.01343)" d="M763 0H583V1147Q518 1085 412.5 1023T223 930V1104Q374 1175 487 1276T647 1472H763Z" fill="#000"/>
<text x="56.3" y="528.0" font-size="27.5" font-family="'Liberation Sans', sans-serif">-</text>
<line x1="83.8" y1="469.20" x2="87.8" y2="469.20" stroke="#3a3a3a" stroke-width="1"/>
<line x1="443.4" y1="469.20" x2="439.4" y2="469.20" stroke="#3a3a3a" stroke-width="1"/>
<text x="81.3" y="479.00" font-size="27.5" text-anchor="end" font-family="'Liberation Sans', sans-serif">0</text>
<line x1="83.8" y1="419.80" x2="87.8" y2="419.80" stroke="#3a3a3a" stroke-width="1"/>
<line x1="443.4" y1="419.80" x2="439.4" y2="419.80" stroke="#3a3a3a" stroke-width="1"/>
<path transform="translate(66.65 430.60) scale(0.01343 -0.01343)" d="M763 0H583V1147Q518 1085 412.5 1023T223 930V1104Q374 1175 487 1276T647 1472H763Z" fill="#000"/>
<line x1="83.8" y1="370.40" x2="87.8" y2="370.40" stroke="#3a3a3a" stroke-width="1"/>
<line x1="443.4" y1="370.40" x2="439.4" y2="370.40" stroke="#3a3a3a" stroke-width="1"/>
<text x="81.3" y="380.20" font-size="27.5" text-anchor="end" font-family="'Liberation Sans', sans-serif">2</text>
<text x="264.5" y="593.4" font-size="27" text-anchor="middle" font-family="'Liberation Sans', sans-serif" font-style="italic">Ω/κ</text>
<text transform="translate(48.8 440.9) rotate(-90)" font-size="26" text-anchor="middle" font-family="'Liberation Sans', sans-serif">Winding number</text>
<text x="160.5" y="441.7" font-size="24" text-anchor="middle" fill="#2a70ae" font-family="'Liberation Sans', sans-serif">I</text>
<text x="160.5" y="471.3" font-size="24" text-anchor="middle" fill="#2a70ae" font-family="'Liberation Sans', sans-serif">unipolar</text>
<text x="270" y="440.9" font-size="24" text-anchor="middle" fill="#6a3b98" font-family="'Liberation Sans', sans-serif">II</text>
<text x="269.5" y="469.9" font-size="24" text-anchor="middle" fill="#6a3b98" font-family="'Liberation Sans', sans-serif">bipolar</text>
<text x="381" y="440.9" font-size="24" text-anchor="middle" fill="#c06a34" font-family="'Liberation Sans', sans-serif">III</text>
<text x="381" y="468.7" font-size="24" text-anchor="middle" fill="#c06a34" font-family="'Liberation Sans', sans-serif">reversed</text>
<text x="381.5" y="497.2" font-size="24" text-anchor="middle" fill="#c06a34" font-family="'Liberation Sans', sans-serif">unipolar</text>
<path d="M193.6 525.5 L201 539 L186.2 539 Z" fill="#1f6fb5"/>
<path d="M279.1 524 L294.1 524 L286.6 538.7 Z" fill="#6a3a9a"/>
<path d="M333.3 521.2 L334.8 528.7 L342.3 530.2 L334.8 531.7 L333.3 539.3 L331.8 531.7 L324.3 530.2 L331.8 528.7 Z" fill="#b8202a"/>
<text x="474.5" y="332.5" font-size="28" font-family="'Liberation Sans', sans-serif">(d)</text>
<line x1="610.85" y1="464.95" x2="899.95" y2="485.25" stroke="#333" stroke-width="1.1"/>
<line x1="610.85" y1="464.95" x2="610.85" y2="351.06" stroke="#333" stroke-width="1.1"/>
<line x1="610.85" y1="351.06" x2="899.95" y2="371.36" stroke="#333" stroke-width="1.1"/>
<line x1="899.95" y1="485.25" x2="899.95" y2="371.36" stroke="#333" stroke-width="1.1"/>
<line x1="517.75" y1="527.05" x2="610.85" y2="464.95" stroke="#333" stroke-width="1.1"/>
<g transform="matrix(0.4655 -0.3105 0 -1.627 589.61 532.10)"><g mask="url(#mk1)"><path d="M14.0 21.50 L17.5 15.55 L21.1 11.37 L24.6 8.43 L28.1 6.37 L31.7 4.92 L35.2 3.90 L38.7 3.19 L42.3 2.68 L45.8 2.33 L49.3 2.08 L52.9 1.91 L56.4 1.79 L59.9 1.70 L63.5 1.64 L67.0 1.60 L70.5 1.57 L74.1 1.55 L77.6 1.53 L81.1 1.52 L84.7 1.52 L88.2 1.51 L91.7 1.51 L95.3 1.51 L98.8 1.50 L102.3 1.50 L105.9 1.50 L109.4 1.50 L112.9 1.50 L116.5 1.50 L120.0 1.50 L120.0 0 L14.0 0 Z" fill="#e8202a" fill-opacity="0.2"/><path d="M14.0 22.83 L17.5 19.23 L21.1 16.24 L24.6 13.77 L28.1 11.71 L31.7 10.01 L35.2 8.59 L38.7 7.42 L42.3 6.45 L45.8 5.64 L49.3 4.97 L52.9 4.42 L56.4 3.96 L59.9 3.58 L63.5 3.26 L67.0 3.00 L70.5 2.78 L74.1 2.60 L77.6 2.45 L81.1 2.33 L84.7 2.22 L88.2 2.14 L91.7 2.07 L95.3 2.01 L98.8 1.96 L102.3 1.92 L105.9 1.89 L109.4 1.86 L112.9 1.83 L116.5 1.82 L120.0 1.80 L120.0 0 L14.0 0 Z" fill="#e8202a" fill-opacity="0.2"/><path d="M14.0 24.17 L17.5 21.51 L21.1 19.18 L24.6 17.12 L28.1 15.30 L31.7 13.71 L35.2 12.30 L38.7 11.07 L42.3 9.98 L45.8 9.02 L49.3 8.17 L52.9 7.43 L56.4 6.77 L59.9 6.20 L63.5 5.69 L67.0 5.24 L70.5 4.85 L74.1 4.50 L77.6 4.20 L81.1 3.93 L84.7 3.69 L88.2 3.48 L91.7 3.30 L95.3 3.14 L98.8 2.99 L102.3 2.87 L105.9 2.76 L109.4 2.66 L112.9 2.58 L116.5 2.50 L120.0 2.43 L120.0 0 L14.0 0 Z" fill="#e8202a" fill-opacity="0.2"/><path d="M14.0 25.50 L17.5 23.36 L21.1 21.41 L24.6 19.64 L28.1 18.04 L31.7 16.58 L35.2 15.25 L38.7 14.05 L42.3 12.96 L45.8 11.97 L49.3 11.07 L52.9 10.25 L56.4 9.51 L59.9 8.83 L63.5 8.22 L67.0 7.66 L70.5 7.16 L74.1 6.70 L77.6 6.28 L81.1 5.91 L84.7 5.56 L88.2 5.25 L91.7 4.97 L95.3 4.71 L98.8 4.48 L102.3 4.26 L105.9 4.07 L109.4 3.90 L112.9 3.74 L116.5 3.59 L120.0 3.46 L120.0 0 L14.0 0 Z" fill="#e8202a" fill-opacity="0.2"/><path d="M14.0 26.83 L17.5 25.01 L21.1 23.32 L24.6 21.76 L28.1 20.31 L31.7 18.98 L35.2 17.74 L38.7 16.59 L42.3 15.53 L45.8 14.55 L49.3 13.64 L52.9 12.80 L56.4 12.03 L59.9 11.31 L63.5 10.64 L67.0 10.03 L70.5 9.46 L74.1 8.93 L77.6 8.44 L81.1 7.99 L84.7 7.57 L88.2 7.18 L91.7 6.83 L95.3 6.50 L98.8 6.19 L102.3 5.91 L105.9 5.64 L109.4 5.40 L112.9 5.18 L116.5 4.97 L120.0 4.77 L120.0 0 L14.0 0 Z" fill="#e8202a" fill-opacity="0.2"/><path d="M14.0 28.17 L17.5 26.56 L21.1 25.06 L24.6 23.65 L28.1 22.32 L31.7 21.09 L35.2 19.92 L38.7 18.84 L42.3 17.82 L45.8 16.86 L49.3 15.97 L52.9 15.13 L56.4 14.34 L59.9 13.60 L63.5 12.91 L67.0 12.27 L70.5 11.66 L74.1 11.09 L77.6 10.56 L81.1 10.06 L84.7 9.59 L88.2 9.15 L91.7 8.74 L95.3 8.36 L98.8 7.99 L102.3 7.66 L105.9 7.34 L109.4 7.04 L112.9 6.76 L116.5 6.50 L120.0 6.26 L120.0 0 L14.0 0 Z" fill="#e8202a" fill-opacity="0.2"/><path d="M14.0 29.50 L17.5 28.05 L21.1 26.68 L24.6 25.39 L28.1 24.17 L31.7 23.01 L35.2 21.91 L38.7 20.88 L42.3 19.90 L45.8 18.97 L49.3 18.10 L52.9 17.27 L56.4 16.49 L59.9 15.75 L63.5 15.04 L67.0 14.38 L70.5 13.76 L74.1 13.16 L77.6 12.60 L81.1 12.07 L84.7 11.57 L88.2 11.10 L91.7 10.65 L95.3 10.22 L98.8 9.82 L102.3 9.44 L105.9 9.09 L109.4 8.75 L112.9 8.43 L116.5 8.12 L120.0 7.83 L120.0 0 L14.0 0 Z" fill="#e8202a" fill-opacity="0.2"/><path d="M14.0 30.83 L17.5 29.51 L21.1 28.24 L24.6 27.04 L28.1 25.90 L31.7 24.81 L35.2 23.77 L38.7 22.78 L42.3 21.84 L45.8 20.94 L49.3 20.09 L52.9 19.27 L56.4 18.50 L59.9 17.76 L63.5 17.06 L67.0 16.39 L70.5 15.75 L74.1 15.15 L77.6 14.57 L81.1 14.02 L84.7 13.50 L88.2 13.00 L91.7 12.52 L95.3 12.07 L98.8 11.64 L102.3 11.23 L105.9 10.84 L109.4 10.47 L112.9 10.12 L116.5 9.78 L120.0 9.46 L120.0 0 L14.0 0 Z" fill="#e8202a" fill-opacity="0.2"/><path d="M14.0 32.17 L17.5 30.94 L21.1 29.76 L24.6 28.63 L28.1 27.55 L31.7 26.51 L35.2 25.52 L38.7 24.57 L42.3 23.67 L45.8 22.80 L49.3 21.97 L52.9 21.17 L56.4 20.41 L59.9 19.68 L63.5 18.98 L67.0 18.31 L70.5 17.67 L74.1 17.05 L77.6 16.47 L81.1 15.90 L84.7 15.37 L88.2 14.85 L91.7 14.36 L95.3 13.89 L98.8 13.43 L102.3 13.00 L105.9 12.59 L109.4 12.19 L112.9 11.81 L116.5 11.45 L120.0 11.10 L120.0 0 L14.0 0 Z" fill="#e8202a" fill-opacity="0.2"/><path d="M14.0 33.50 L17.5 32.35 L21.1 31.23 L24.6 30.17 L28.1 29.14 L31.7 28.15 L35.2 27.20 L38.7 26.29 L42.3 25.41 L45.8 24.57 L49.3 23.76 L52.9 22.98 L56.4 22.23 L59.9 21.51 L63.5 20.81 L67.0 20.15 L70.5 19.51 L74.1 18.89 L77.6 18.30 L81.1 17.73 L84.7 17.18 L88.2 16.65 L91.7 16.15 L95.3 15.66 L98.8 15.19 L102.3 14.74 L105.9 14.31 L109.4 13.89 L112.9 13.49 L116.5 13.11 L120.0 12.74 L120.0 0 L14.0 0 Z" fill="#e8202a" fill-opacity="0.2"/><path d="M14.0 0.00 L120.0 0.00 L120.0 3.00 L14.0 5.00 Z" fill="#e8202a" fill-opacity="0.5"/></g><path d="M14.0 0.00 L140.0 0.00 Z" stroke="#b3202c" stroke-width="1" vector-effect="non-scaling-stroke" fill="none" opacity="0.85"/></g>
<path d="M539.23 526.61 L632.33 465.48 L632.33 449.54 L539.23 510.17 Z" fill="#e8202a"/>
<g transform="matrix(0.4655 -0.3105 0 -1.627 539.23 528.56)"><path d="M0.0 8.5V11.2M2.0 8.5V11.7M4.0 8.5V11.4M6.0 8.5V11.7M8.0 8.5V11.7M10.0 8.5V10.9M12.0 8.5V10.9M14.0 8.5V12.0M16.0 8.5V11.2M18.0 8.5V11.1M20.0 8.5V12.2M22.0 8.5V11.5M24.0 8.5V12.0M26.0 8.5V11.4M28.0 8.5V11.7M30.0 8.5V11.0M32.0 8.5V11.6M34.0 8.5V12.0M36.0 8.5V11.5M38.0 8.5V11.8M40.0 8.5V11.7M42.0 8.5V10.8M44.0 8.5V11.8M46.0 8.5V11.5M48.0 8.5V11.1M50.0 8.5V10.7M52.0 8.5V11.9M54.0 8.5V11.3M56.0 8.5V11.7M58.0 8.5V11.9M60.0 8.5V11.6M62.0 8.5V11.9M64.0 8.5V11.2M66.0 8.5V11.7M68.0 8.5V11.2M70.0 8.5V11.9M72.0 8.5V11.8M74.0 8.5V10.7M76.0 8.5V10.7M78.0 8.5V10.9M80.0 8.5V11.9M82.0 8.5V11.1M84.0 8.5V11.4M86.0 8.5V10.9M88.0 8.5V11.2M90.0 8.5V11.0M92.0 8.5V11.0M94.0 8.5V11.3M96.0 8.5V11.3M98.0 8.5V11.7M100.0 8.5V11.4M102.0 8.5V11.7M104.0 8.5V11.6M106.0 8.5V11.8M108.0 8.5V11.4M110.0 8.5V10.6M112.0 8.5V11.6M114.0 8.5V11.7M116.0 8.5V11.6M118.0 8.5V11.2M120.0 8.5V11.4M122.0 8.5V10.6M124.0 8.5V11.5M126.0 8.5V11.1M128.0 8.5V10.7M130.0 8.5V10.4M132.0 8.5V11.5M134.0 8.5V11.7M136.0 8.5V10.4M138.0 8.5V11.4M140.0 8.5V10.8M142.0 8.5V10.5M144.0 8.5V10.7M146.0 8.5V11.3M148.0 8.5V11.5M150.0 8.5V10.3M152.0 8.5V11.1M154.0 8.5V10.3M156.0 8.5V11.2M158.0 8.5V10.7M160.0 8.5V11.4M162.0 8.5V11.5M164.0 8.5V10.9M166.0 8.5V11.6M168.0 8.5V10.6M170.0 8.5V10.2M172.0 8.5V11.0M174.0 8.5V10.2M176.0 8.5V10.4M178.0 8.5V10.7M180.0 8.5V10.9M182.0 8.5V10.3M184.0 8.5V10.1M186.0 8.5V11.3M188.0 8.5V10.5M190.0 8.5V11.4M192.0 8.5V11.3M194.0 8.5V10.6M196.0 8.5V10.7M198.0 8.5V10.7M200.0 8.5V10.9" stroke="#e8202a" stroke-width="1" vector-effect="non-scaling-stroke" fill="none"/></g>
<g transform="matrix(0.4655 -0.3105 0 -1.627 589.61 532.10)"><path d="M0.0 0.00 L0.0 57.70 L1.2 56.00 L3.0 42.00 L6.0 33.00 L15.5 29.00 L15.5 1.50 L0.0 0.00 Z" fill="#e8202a"/></g>
<g transform="matrix(0.4655 -0.3105 0 -1.627 635.66 535.33)"><g mask="url(#mk2)"><path d="M4.0 13.57 L8.7 9.08 L13.3 6.26 L17.9 4.49 L22.6 3.38 L27.2 2.68 L31.9 2.24 L36.5 1.97 L41.2 1.79 L45.9 1.68 L50.5 1.62 L55.1 1.57 L59.8 1.55 L64.5 1.53 L69.1 1.52 L73.8 1.51 L78.4 1.51 L83.0 1.50 L87.7 1.50 L92.3 1.50 L97.0 1.50 L101.7 1.50 L106.3 1.50 L111.0 1.50 L115.6 1.50 L120.2 1.50 L124.9 1.50 L129.6 1.51 L134.2 1.51 L138.8 1.52 L143.5 1.53 L148.2 1.55 L152.8 1.60 L157.4 1.67 L162.1 1.81 L166.8 2.05 L171.4 2.48 L176.1 3.25 L180.7 4.63 L185.3 7.09 L190.0 11.50 L190.0 0 L4.0 0 Z" fill="#e8202a" fill-opacity="0.15"/><path d="M4.0 17.39 L8.7 13.08 L13.3 9.95 L17.9 7.69 L22.6 6.05 L27.2 4.86 L31.9 3.99 L36.5 3.37 L41.2 2.91 L45.9 2.59 L50.5 2.35 L55.1 2.18 L59.8 2.05 L64.5 1.96 L69.1 1.90 L73.8 1.85 L78.4 1.81 L83.0 1.79 L87.7 1.77 L92.3 1.76 L97.0 1.75 L101.7 1.74 L106.3 1.74 L111.0 1.74 L115.6 1.74 L120.2 1.74 L124.9 1.74 L129.6 1.75 L134.2 1.77 L138.8 1.80 L143.5 1.84 L148.2 1.90 L152.8 2.01 L157.4 2.17 L162.1 2.43 L166.8 2.84 L171.4 3.49 L176.1 4.50 L180.7 6.11 L185.3 8.63 L190.0 12.61 L190.0 0 L4.0 0 Z" fill="#e8202a" fill-opacity="0.15"/><path d="M4.0 20.82 L8.7 16.70 L13.3 13.48 L17.9 10.97 L22.6 9.00 L27.2 7.46 L31.9 6.26 L36.5 5.31 L41.2 4.58 L45.9 4.00 L50.5 3.55 L55.1 3.20 L59.8 2.93 L64.5 2.71 L69.1 2.55 L73.8 2.42 L78.4 2.31 L83.0 2.23 L87.7 2.17 L92.3 2.12 L97.0 2.09 L101.7 2.06 L106.3 2.04 L111.0 2.03 L115.6 2.03 L120.2 2.03 L124.9 2.04 L129.6 2.06 L134.2 2.10 L138.8 2.15 L143.5 2.24 L148.2 2.36 L152.8 2.54 L157.4 2.81 L162.1 3.20 L166.8 3.77 L171.4 4.59 L176.1 5.79 L180.7 7.52 L185.3 10.05 L190.0 13.72 L190.0 0 L4.0 0 Z" fill="#e8202a" fill-opacity="0.15"/><path d="M4.0 24.07 L8.7 20.11 L13.3 16.87 L17.9 14.21 L22.6 12.04 L27.2 10.25 L31.9 8.79 L36.5 7.60 L41.2 6.61 L45.9 5.81 L50.5 5.15 L55.1 4.61 L59.8 4.17 L64.5 3.81 L69.1 3.52 L73.8 3.27 L78.4 3.08 L83.0 2.92 L87.7 2.78 L92.3 2.68 L97.0 2.60 L101.7 2.53 L106.3 2.48 L111.0 2.45 L115.6 2.43 L120.2 2.43 L124.9 2.44 L129.6 2.47 L134.2 2.53 L138.8 2.62 L143.5 2.75 L148.2 2.94 L152.8 3.21 L157.4 3.57 L162.1 4.08 L166.8 4.78 L171.4 5.75 L176.1 7.07 L180.7 8.90 L185.3 11.40 L190.0 14.84 L190.0 0 L4.0 0 Z" fill="#e8202a" fill-opacity="0.15"/><path d="M4.0 27.21 L8.7 23.39 L13.3 20.15 L17.9 17.41 L22.6 15.10 L27.2 13.14 L31.9 11.48 L36.5 10.08 L41.2 8.90 L45.9 7.89 L50.5 7.05 L55.1 6.33 L59.8 5.72 L64.5 5.21 L69.1 4.78 L73.8 4.42 L78.4 4.11 L83.0 3.85 L87.7 3.64 L92.3 3.46 L97.0 3.32 L101.7 3.20 L106.3 3.11 L111.0 3.04 L115.6 3.00 L120.2 2.98 L124.9 3.00 L129.6 3.04 L134.2 3.12 L138.8 3.24 L143.5 3.42 L148.2 3.66 L152.8 4.00 L157.4 4.46 L162.1 5.07 L166.8 5.88 L171.4 6.96 L176.1 8.37 L180.7 10.25 L185.3 12.72 L190.0 15.98 L190.0 0 L4.0 0 Z" fill="#e8202a" fill-opacity="0.15"/><path d="M4.0 30.29 L8.7 26.57 L13.3 23.35 L17.9 20.56 L22.6 18.15 L27.2 16.06 L31.9 14.26 L36.5 12.69 L41.2 11.34 L45.9 10.17 L50.5 9.16 L55.1 8.28 L59.8 7.52 L64.5 6.87 L69.1 6.31 L73.8 5.82 L78.4 5.40 L83.0 5.05 L87.7 4.74 L92.3 4.48 L97.0 4.27 L101.7 4.09 L106.3 3.95 L111.0 3.84 L115.6 3.77 L120.2 3.74 L124.9 3.74 L129.6 3.78 L134.2 3.88 L138.8 4.03 L143.5 4.24 L148.2 4.54 L152.8 4.95 L157.4 5.48 L162.1 6.17 L166.8 7.07 L171.4 8.22 L176.1 9.71 L180.7 11.61 L185.3 14.04 L190.0 17.14 L190.0 0 L4.0 0 Z" fill="#e8202a" fill-opacity="0.15"/><path d="M4.0 33.32 L8.7 29.69 L13.3 26.49 L17.9 23.68 L22.6 21.20 L27.2 19.01 L31.9 17.09 L36.5 15.39 L41.2 13.90 L45.9 12.59 L50.5 11.43 L55.1 10.42 L59.8 9.52 L64.5 8.74 L69.1 8.05 L73.8 7.45 L78.4 6.92 L83.0 6.47 L87.7 6.07 L92.3 5.73 L97.0 5.44 L101.7 5.20 L106.3 5.01 L111.0 4.86 L115.6 4.76 L120.2 4.70 L124.9 4.69 L129.6 4.73 L134.2 4.83 L138.8 5.00 L143.5 5.25 L148.2 5.59 L152.8 6.04 L157.4 6.63 L162.1 7.39 L166.8 8.35 L171.4 9.56 L176.1 11.09 L180.7 12.99 L185.3 15.38 L190.0 18.36 L190.0 0 L4.0 0 Z" fill="#e8202a" fill-opacity="0.15"/><path d="M4.0 36.33 L8.7 32.77 L13.3 29.60 L17.9 26.76 L22.6 24.23 L27.2 21.97 L31.9 19.95 L36.5 18.15 L41.2 16.54 L45.9 15.11 L50.5 13.83 L55.1 12.70 L59.8 11.68 L64.5 10.78 L69.1 9.98 L73.8 9.27 L78.4 8.64 L83.0 8.09 L87.7 7.61 L92.3 7.19 L97.0 6.83 L101.7 6.53 L106.3 6.28 L111.0 6.09 L115.6 5.95 L120.2 5.86 L124.9 5.84 L129.6 5.87 L134.2 5.98 L138.8 6.16 L143.5 6.43 L148.2 6.80 L152.8 7.29 L157.4 7.93 L162.1 8.73 L166.8 9.74 L171.4 10.99 L176.1 12.53 L180.7 14.44 L185.3 16.78 L190.0 19.64 L190.0 0 L4.0 0 Z" fill="#e8202a" fill-opacity="0.15"/><path d="M4.0 39.32 L8.7 35.82 L13.3 32.67 L17.9 29.82 L22.6 27.25 L27.2 24.93 L31.9 22.84 L36.5 20.95 L41.2 19.25 L45.9 17.72 L50.5 16.34 L55.1 15.09 L59.8 13.97 L64.5 12.97 L69.1 12.06 L73.8 11.26 L78.4 10.54 L83.0 9.90 L87.7 9.34 L92.3 8.85 L97.0 8.42 L101.7 8.06 L106.3 7.76 L111.0 7.52 L115.6 7.34 L120.2 7.23 L124.9 7.18 L129.6 7.21 L134.2 7.31 L138.8 7.50 L143.5 7.78 L148.2 8.17 L152.8 8.69 L157.4 9.36 L162.1 10.20 L166.8 11.23 L171.4 12.51 L176.1 14.06 L180.7 15.95 L185.3 18.24 L190.0 21.00 L190.0 0 L4.0 0 Z" fill="#e8202a" fill-opacity="0.15"/><path d="M4.0 42.29 L8.7 38.86 L13.3 35.72 L17.9 32.87 L22.6 30.27 L27.2 27.91 L31.9 25.75 L36.5 23.79 L41.2 22.01 L45.9 20.39 L50.5 18.92 L55.1 17.58 L59.8 16.37 L64.5 15.28 L69.1 14.29 L73.8 13.39 L78.4 12.59 L83.0 11.87 L87.7 11.24 L92.3 10.67 L97.0 10.19 L101.7 9.77 L106.3 9.42 L111.0 9.14 L115.6 8.92 L120.2 8.78 L124.9 8.71 L129.6 8.73 L134.2 8.82 L138.8 9.01 L143.5 9.30 L148.2 9.71 L152.8 10.24 L157.4 10.93 L162.1 11.79 L166.8 12.84 L171.4 14.13 L176.1 15.68 L180.7 17.54 L185.3 19.78 L190.0 22.44 L190.0 0 L4.0 0 Z" fill="#e8202a" fill-opacity="0.15"/><path d="M4.0 0.00 L190.0 0.00 L190.0 3.00 L4.0 4.00 Z" fill="#e8202a" fill-opacity="0.5"/></g><path d="M90.0 0.00 L93.3 0.00 L96.7 0.00 L100.0 0.00 L103.3 0.00 L106.7 0.00 L110.0 0.00 L113.3 0.00 L116.7 0.00 L120.0 0.00 L123.3 0.00 L126.7 0.00 L130.0 0.00 L133.3 0.00 L136.7 0.00 L140.0 0.01 L143.3 0.01 L146.7 0.02 L150.0 0.04 L153.3 0.08 L156.7 0.13 L160.0 0.23 L163.3 0.40 L166.7 0.70 L170.0 1.21 L173.3 2.11 L176.7 3.68 L180.0 6.42 L183.3 11.19 L186.7 19.51 L190.0 34.00 L190.0 0 L90.0 0 Z" fill="#e8202a" fill-opacity="0.18"/><path d="M90.0 0.00 L93.3 0.00 L96.7 0.00 L100.0 0.00 L103.3 0.01 L106.7 0.01 L110.0 0.01 L113.3 0.01 L116.7 0.02 L120.0 0.03 L123.3 0.04 L126.7 0.05 L130.0 0.07 L133.3 0.10 L136.7 0.14 L140.0 0.20 L143.3 0.28 L146.7 0.39 L150.0 0.55 L153.3 0.77 L156.7 1.07 L160.0 1.49 L163.3 2.08 L166.7 2.91 L170.0 4.06 L173.3 5.67 L176.7 7.91 L180.0 11.04 L183.3 15.40 L186.7 21.50 L190.0 30.00 L190.0 0 L90.0 0 Z" fill="#e8202a" fill-opacity="0.18"/><path d="M90.0 0.03 L93.3 0.04 L96.7 0.05 L100.0 0.07 L103.3 0.08 L106.7 0.10 L110.0 0.13 L113.3 0.16 L116.7 0.20 L120.0 0.25 L123.3 0.32 L126.7 0.40 L130.0 0.49 L133.3 0.62 L136.7 0.77 L140.0 0.96 L143.3 1.20 L146.7 1.50 L150.0 1.88 L153.3 2.34 L156.7 2.93 L160.0 3.65 L163.3 4.56 L166.7 5.70 L170.0 7.12 L173.3 8.89 L176.7 11.10 L180.0 13.86 L183.3 17.31 L186.7 21.62 L190.0 27.00 L190.0 0 L90.0 0 Z" fill="#e8202a" fill-opacity="0.18"/><path d="M90.0 0.24 L93.3 0.28 L96.7 0.33 L100.0 0.38 L103.3 0.45 L106.7 0.52 L110.0 0.61 L113.3 0.71 L116.7 0.82 L120.0 0.95 L123.3 1.11 L126.7 1.29 L130.0 1.50 L133.3 1.75 L136.7 2.04 L140.0 2.37 L143.3 2.76 L146.7 3.21 L150.0 3.73 L153.3 4.34 L156.7 5.05 L160.0 5.88 L163.3 6.84 L166.7 7.96 L170.0 9.27 L173.3 10.78 L176.7 12.55 L180.0 14.60 L183.3 16.99 L186.7 19.77 L190.0 23.00 L190.0 0 L90.0 0 Z" fill="#e8202a" fill-opacity="0.18"/><path d="M90.0 0.83 L93.3 0.93 L96.7 1.03 L100.0 1.14 L103.3 1.27 L106.7 1.41 L110.0 1.56 L113.3 1.73 L116.7 1.92 L120.0 2.13 L123.3 2.37 L126.7 2.63 L130.0 2.91 L133.3 3.23 L136.7 3.59 L140.0 3.98 L143.3 4.42 L146.7 4.91 L150.0 5.44 L153.3 6.04 L156.7 6.70 L160.0 7.44 L163.3 8.26 L166.7 9.16 L170.0 10.17 L173.3 11.29 L176.7 12.53 L180.0 13.90 L183.3 15.43 L186.7 17.12 L190.0 19.00 L190.0 0 L90.0 0 Z" fill="#e8202a" fill-opacity="0.18"/><path d="M90.0 1.63 L93.3 1.75 L96.7 1.89 L100.0 2.03 L103.3 2.19 L106.7 2.35 L110.0 2.54 L113.3 2.73 L116.7 2.94 L120.0 3.17 L123.3 3.41 L126.7 3.67 L130.0 3.95 L133.3 4.26 L136.7 4.59 L140.0 4.94 L143.3 5.32 L146.7 5.73 L150.0 6.17 L153.3 6.64 L156.7 7.15 L160.0 7.70 L163.3 8.29 L166.7 8.93 L170.0 9.62 L173.3 10.36 L176.7 11.15 L180.0 12.01 L183.3 12.93 L186.7 13.93 L190.0 15.00 L190.0 0 L90.0 0 Z" fill="#e8202a" fill-opacity="0.18"/><path d="M90.0 2.08 L93.3 2.20 L96.7 2.32 L100.0 2.45 L103.3 2.59 L106.7 2.74 L110.0 2.90 L113.3 3.07 L116.7 3.24 L120.0 3.43 L123.3 3.62 L126.7 3.83 L130.0 4.05 L133.3 4.28 L136.7 4.52 L140.0 4.78 L143.3 5.05 L146.7 5.34 L150.0 5.65 L153.3 5.97 L156.7 6.31 L160.0 6.67 L163.3 7.05 L166.7 7.46 L170.0 7.88 L173.3 8.33 L176.7 8.81 L180.0 9.31 L183.3 9.84 L186.7 10.41 L190.0 11.00 L190.0 0 L90.0 0 Z" fill="#e8202a" fill-opacity="0.18"/><path d="M4.0 20.63 L10.6 12.71 L17.3 8.16 L23.9 5.54 L30.6 4.04 L37.2 3.17 L43.8 2.67 L50.5 2.39 L57.1 2.22 L63.8 2.13 L70.4 2.07 L77.0 2.04 L83.7 2.02 L90.3 2.01 L97.0 2.01 L103.6 2.00 L110.2 2.00 L116.9 2.00 L123.5 2.00 L130.2 2.00 L136.8 2.00 L143.4 2.00 L150.1 2.00 L156.7 2.00 L163.4 2.00 L170.0 2.00" stroke="#e8202a" stroke-width="0.8" vector-effect="non-scaling-stroke" fill="none" opacity="0.35"/><path d="M4.0 18.37 L10.6 13.75 L17.3 10.43 L23.9 8.05 L30.6 6.34 L37.2 5.11 L43.8 4.23 L50.5 3.60 L57.1 3.15 L63.8 2.83 L70.4 2.59 L77.0 2.42 L83.7 2.30 L90.3 2.22 L97.0 2.16 L103.6 2.11 L110.2 2.08 L116.9 2.06 L123.5 2.04 L130.2 2.03 L136.8 2.02 L143.4 2.02 L150.1 2.01 L156.7 2.01 L163.4 2.01 L170.0 2.00" stroke="#e8202a" stroke-width="0.8" vector-effect="non-scaling-stroke" fill="none" opacity="0.35"/><path d="M4.0 15.24 L10.6 12.76 L17.3 10.74 L23.9 9.10 L30.6 7.77 L37.2 6.69 L43.8 5.81 L50.5 5.10 L57.1 4.52 L63.8 4.05 L70.4 3.66 L77.0 3.35 L83.7 3.10 L90.3 2.89 L97.0 2.72 L103.6 2.59 L110.2 2.48 L116.9 2.39 L123.5 2.32 L130.2 2.26 L136.8 2.21 L143.4 2.17 L150.1 2.14 L156.7 2.11 L163.4 2.09 L170.0 2.07" stroke="#e8202a" stroke-width="0.8" vector-effect="non-scaling-stroke" fill="none" opacity="0.35"/><path d="M4.0 12.15 L10.6 10.89 L17.3 9.79 L23.9 8.82 L30.6 7.97 L37.2 7.23 L43.8 6.58 L50.5 6.01 L57.1 5.51 L63.8 5.07 L70.4 4.69 L77.0 4.36 L83.7 4.06 L90.3 3.81 L97.0 3.58 L103.6 3.39 L110.2 3.21 L116.9 3.06 L123.5 2.93 L130.2 2.81 L136.8 2.71 L143.4 2.62 L150.1 2.55 L156.7 2.48 L163.4 2.42 L170.0 2.37" stroke="#e8202a" stroke-width="0.8" vector-effect="non-scaling-stroke" fill="none" opacity="0.35"/><path d="M188.8 0.00 L188.8 36.00 L190.0 36.00 L190.0 0.00 Z" fill="#e8202a" fill-opacity="0.6"/><path d="M0.0 0.00 L0.0 55.00 L1.2 53.00 L3.0 38.00 L5.0 30.00 L9.0 25.00 L9.0 0.00 Z" fill="#e8202a"/><path d="M4.0 0.00 L200.0 0.00 Z" stroke="#b3202c" stroke-width="1" vector-effect="non-scaling-stroke" fill="none" opacity="0.85"/></g>
<g transform="matrix(0.4655 -0.3105 0 -1.627 654.04 536.62)"><path d="M0.0 0.00 L200.0 0.00 L200.0 6.50 L0.0 6.00 Z" fill="#e8202a" fill-opacity="0.18"/><path d="M0.0 0.30 L200.0 0.30 L200.0 2.20 L0.0 2.00 Z" fill="#e8202a" fill-opacity="0.7"/><path d="M0.0 4.00 L200.0 4.50 L200.0 6.50 L0.0 6.00 Z" fill="#e8202a" fill-opacity="0.6"/><path d="M30.0 2.00 L34.2 2.00 L38.5 2.00 L42.8 2.00 L47.0 2.00 L51.2 2.00 L55.5 2.00 L59.8 2.00 L64.0 2.00 L68.2 2.00 L72.5 2.00 L76.8 2.00 L81.0 2.00 L85.2 2.00 L89.5 2.00 L93.8 2.00 L98.0 2.00 L102.2 2.00 L106.5 2.00 L110.8 2.00 L115.0 2.00 L119.2 2.00 L123.5 2.00 L127.8 2.00 L132.0 2.00 L136.2 2.00 L140.5 2.00 L144.8 2.00 L149.0 2.00 L153.2 2.00 L157.5 2.01 L161.8 2.02 L166.0 2.06 L170.2 2.14 L174.5 2.32 L178.8 2.74 L183.0 3.74 L187.2 6.06 L191.5 11.50 L195.8 24.23 L200.0 54.00 L200.0 0 L30.0 0 Z" fill="#e8202a" fill-opacity="0.27"/><path d="M30.0 2.00 L34.2 2.00 L38.5 2.00 L42.8 2.00 L47.0 2.00 L51.2 2.00 L55.5 2.00 L59.8 2.00 L64.0 2.00 L68.2 2.00 L72.5 2.00 L76.8 2.00 L81.0 2.00 L85.2 2.00 L89.5 2.00 L93.8 2.00 L98.0 2.00 L102.2 2.00 L106.5 2.00 L110.8 2.01 L115.0 2.01 L119.2 2.01 L123.5 2.02 L127.8 2.03 L132.0 2.05 L136.2 2.07 L140.5 2.11 L144.8 2.18 L149.0 2.27 L153.2 2.41 L157.5 2.63 L161.8 2.96 L166.0 3.47 L170.2 4.25 L174.5 5.44 L178.8 7.26 L183.0 10.04 L187.2 14.29 L191.5 20.81 L195.8 30.77 L200.0 46.00 L200.0 0 L30.0 0 Z" fill="#e8202a" fill-opacity="0.27"/><path d="M30.0 2.00 L34.2 2.00 L38.5 2.00 L42.8 2.00 L47.0 2.00 L51.2 2.00 L55.5 2.00 L59.8 2.01 L64.0 2.01 L68.2 2.01 L72.5 2.01 L76.8 2.02 L81.0 2.02 L85.2 2.03 L89.5 2.04 L93.8 2.05 L98.0 2.06 L102.2 2.08 L106.5 2.11 L110.8 2.14 L115.0 2.18 L119.2 2.24 L123.5 2.31 L127.8 2.40 L132.0 2.53 L136.2 2.69 L140.5 2.90 L144.8 3.17 L149.0 3.53 L153.2 3.99 L157.5 4.60 L161.8 5.39 L166.0 6.42 L170.2 7.76 L174.5 9.52 L178.8 11.80 L183.0 14.79 L187.2 18.68 L191.5 23.75 L195.8 30.37 L200.0 39.00 L200.0 0 L30.0 0 Z" fill="#e8202a" fill-opacity="0.27"/><path d="M30.0 2.03 L34.2 2.03 L38.5 2.04 L42.8 2.04 L47.0 2.05 L51.2 2.06 L55.5 2.07 L59.8 2.09 L64.0 2.10 L68.2 2.12 L72.5 2.15 L76.8 2.18 L81.0 2.21 L85.2 2.25 L89.5 2.30 L93.8 2.36 L98.0 2.43 L102.2 2.51 L106.5 2.61 L110.8 2.73 L115.0 2.87 L119.2 3.04 L123.5 3.24 L127.8 3.48 L132.0 3.76 L136.2 4.11 L140.5 4.51 L144.8 5.00 L149.0 5.58 L153.2 6.28 L157.5 7.11 L161.8 8.09 L166.0 9.28 L170.2 10.69 L174.5 12.37 L178.8 14.38 L183.0 16.77 L187.2 19.64 L191.5 23.05 L195.8 27.13 L200.0 32.00 L200.0 0 L30.0 0 Z" fill="#e8202a" fill-opacity="0.27"/><path d="M30.0 2.19 L34.2 2.21 L38.5 2.24 L42.8 2.27 L47.0 2.30 L51.2 2.34 L55.5 2.39 L59.8 2.44 L64.0 2.49 L68.2 2.56 L72.5 2.63 L76.8 2.71 L81.0 2.80 L85.2 2.90 L89.5 3.02 L93.8 3.15 L98.0 3.30 L102.2 3.47 L106.5 3.66 L110.8 3.87 L115.0 4.12 L119.2 4.39 L123.5 4.70 L127.8 5.05 L132.0 5.44 L136.2 5.88 L140.5 6.38 L144.8 6.95 L149.0 7.59 L153.2 8.31 L157.5 9.13 L161.8 10.05 L166.0 11.09 L170.2 12.26 L174.5 13.58 L178.8 15.08 L183.0 16.77 L187.2 18.67 L191.5 20.83 L195.8 23.26 L200.0 26.00 L200.0 0 L30.0 0 Z" fill="#e8202a" fill-opacity="0.27"/><path d="M30.0 2.60 L34.2 2.65 L38.5 2.71 L42.8 2.78 L47.0 2.84 L51.2 2.92 L55.5 3.00 L59.8 3.09 L64.0 3.19 L68.2 3.29 L72.5 3.41 L76.8 3.53 L81.0 3.67 L85.2 3.81 L89.5 3.97 L93.8 4.15 L98.0 4.34 L102.2 4.55 L106.5 4.77 L110.8 5.02 L115.0 5.29 L119.2 5.58 L123.5 5.90 L127.8 6.24 L132.0 6.62 L136.2 7.03 L140.5 7.48 L144.8 7.96 L149.0 8.49 L153.2 9.07 L157.5 9.69 L161.8 10.38 L166.0 11.12 L170.2 11.93 L174.5 12.81 L178.8 13.77 L183.0 14.81 L187.2 15.95 L191.5 17.19 L195.8 18.53 L200.0 20.00 L200.0 0 L30.0 0 Z" fill="#e8202a" fill-opacity="0.27"/><path d="M30.0 3.15 L34.2 3.22 L38.5 3.29 L42.8 3.38 L47.0 3.46 L51.2 3.55 L55.5 3.65 L59.8 3.75 L64.0 3.86 L68.2 3.98 L72.5 4.10 L76.8 4.23 L81.0 4.37 L85.2 4.52 L89.5 4.68 L93.8 4.85 L98.0 5.03 L102.2 5.22 L106.5 5.42 L110.8 5.63 L115.0 5.86 L119.2 6.10 L123.5 6.36 L127.8 6.63 L132.0 6.92 L136.2 7.23 L140.5 7.56 L144.8 7.90 L149.0 8.27 L153.2 8.67 L157.5 9.08 L161.8 9.53 L166.0 10.00 L170.2 10.50 L174.5 11.03 L178.8 11.60 L183.0 12.20 L187.2 12.84 L191.5 13.51 L195.8 14.23 L200.0 15.00 L200.0 0 L30.0 0 Z" fill="#e8202a" fill-opacity="0.27"/><path d="M198.6 0.00 L198.6 55.00 L200.0 55.00 L200.0 0.00 Z" fill="#e8202a" fill-opacity="0.9"/><path d="M0.0 0.00 L200.0 0.00 Z" stroke="#b3202c" stroke-width="0.9" vector-effect="non-scaling-stroke" fill="none" opacity="0.85"/><path d="M0.0 3.50 L200.0 3.50 Z" stroke="#b3202c" stroke-width="0.7" vector-effect="non-scaling-stroke" fill="none" opacity="0.55"/></g>
<g transform="matrix(0.4655 -0.3105 0 -1.627 787.03 545.96)"><path d="M0.0 6.80 L10.0 7.12 L20.0 7.51 L30.0 7.93 L40.0 8.37 L50.0 8.83 L60.0 9.30 L70.0 9.79 L80.0 10.29 L90.0 10.79 L100.0 11.31 L110.0 11.83 L120.0 12.36 L130.0 12.89 L140.0 13.44 L150.0 13.98 L160.0 14.54 L170.0 15.10 L180.0 15.66 L190.0 16.23 L200.0 16.80 L200.0 1.3 L0.0 1.3 Z" fill="#e8202a"/><path d="M0.0 4.8V6.8M2.5 4.9V6.5M5.0 4.9V7.5M7.5 5.0V6.6M10.0 5.1V7.5M12.5 5.2V7.3M15.0 5.3V6.8M17.5 5.4V7.7M20.0 5.5V7.0M22.5 5.6V7.8M25.0 5.7V7.2M27.5 5.8V7.4M30.0 5.9V8.1M32.5 6.0V8.9M35.0 6.1V7.8M37.5 6.3V8.1M40.0 6.4V8.9M42.5 6.5V9.6M45.0 6.6V9.0M47.5 6.7V8.8M50.0 6.8V10.0M52.5 6.9V8.4M55.0 7.1V10.0M57.5 7.2V9.1M60.0 7.3V9.0M62.5 7.4V9.0M65.0 7.5V9.5M67.5 7.7V10.5M70.0 7.8V9.5M72.5 7.9V10.4M75.0 8.0V10.6M77.5 8.2V10.2M80.0 8.3V10.7M82.5 8.4V9.9M85.0 8.5V10.0M87.5 8.7V10.4M90.0 8.8V11.4M92.5 8.9V11.1M95.0 9.0V11.0M97.5 9.2V11.6M100.0 9.3V11.5M102.5 9.4V11.4M105.0 9.6V12.4M107.5 9.7V12.4M110.0 9.8V11.7M112.5 10.0V12.4M115.0 10.1V12.4M117.5 10.2V13.2M120.0 10.4V13.1M122.5 10.5V12.4M125.0 10.6V13.8M127.5 10.8V12.4M130.0 10.9V13.0M132.5 11.0V13.8M135.0 11.2V12.8M137.5 11.3V13.6M140.0 11.4V12.9M142.5 11.6V14.2M145.0 11.7V14.5M147.5 11.8V14.3M150.0 12.0V15.0M152.5 12.1V14.1M155.0 12.3V14.9M157.5 12.4V14.9M160.0 12.5V15.0M162.5 12.7V14.9M165.0 12.8V15.7M167.5 13.0V16.1M170.0 13.1V15.3M172.5 13.2V15.8M175.0 13.4V14.9M177.5 13.5V16.2M180.0 13.7V16.2M182.5 13.8V17.0M185.0 13.9V16.8M187.5 14.1V16.0M190.0 14.2V16.3M192.5 14.4V17.0M195.0 14.5V16.0M197.5 14.7V16.9M200.0 14.8V16.5" stroke="#e8202a" stroke-width="1.1" vector-effect="non-scaling-stroke" fill="none"/><path d="M120.0 11.4V12.4M121.3 11.4V12.4M122.7 11.5V12.5M124.0 11.6V12.6M125.3 11.6V12.7M126.7 11.7V12.7M128.0 11.8V12.9M129.3 11.9V12.9M130.7 11.9V13.0M132.0 12.0V13.1M133.3 12.1V13.3M134.7 12.1V13.4M136.0 12.2V13.5M137.3 12.3V13.5M138.7 12.4V13.6M140.0 12.4V13.7M141.3 12.5V14.0M142.7 12.6V14.2M144.0 12.7V14.0M145.3 12.7V14.1M146.7 12.8V14.2M148.0 12.9V14.4M149.3 12.9V14.6M150.7 13.0V14.9M152.0 13.1V14.8M153.3 13.2V14.7M154.7 13.2V15.2M156.0 13.3V15.3M157.3 13.4V15.6M158.7 13.5V16.2M160.0 13.5V16.1M161.3 13.6V16.0M162.7 13.7V16.3M164.0 13.8V16.6M165.3 13.8V15.9M166.7 13.9V17.3M168.0 14.0V17.3M169.3 14.1V17.7M170.7 14.1V17.8M172.0 14.2V17.2M173.3 14.3V17.4M174.7 14.4V17.0M176.0 14.4V18.3M177.3 14.5V17.2M178.7 14.6V17.4M180.0 14.7V17.9M181.3 14.7V17.9M182.7 14.8V18.6M184.0 14.9V18.0M185.3 15.0V18.0M186.7 15.0V18.6M188.0 15.1V18.6M189.3 15.2V19.7M190.7 15.3V18.7M192.0 15.3V22.0M193.3 15.4V21.3M194.7 15.5V19.7M196.0 15.6V20.3M197.3 15.6V20.9M198.7 15.7V21.2" stroke="#e8202a" stroke-width="0.9" vector-effect="non-scaling-stroke" fill="none" opacity="0.45"/></g>
<line x1="517.75" y1="527.05" x2="806.85" y2="547.35" stroke="#333" stroke-width="1.1"/>
<line x1="806.85" y1="547.35" x2="899.95" y2="485.25" stroke="#333" stroke-width="1.1"/>
<line x1="517.75" y1="527.05" x2="517.75" y2="413.16" stroke="#333" stroke-width="1.1"/>
<line x1="517.75" y1="413.16" x2="806.85" y2="433.46" stroke="#333" stroke-width="1.1"/>
<line x1="806.85" y1="433.46" x2="806.85" y2="547.35" stroke="#333" stroke-width="1.1"/>
<line x1="517.75" y1="413.16" x2="610.85" y2="351.06" stroke="#333" stroke-width="1.1"/>
<line x1="806.85" y1="433.46" x2="899.95" y2="371.36" stroke="#333" stroke-width="1.1"/>
<line x1="512.75" y1="413.16" x2="517.75" y2="413.16" stroke="#333" stroke-width="1"/>
<line x1="512.75" y1="527.05" x2="517.75" y2="527.05" stroke="#333" stroke-width="1"/>
<text x="513.5" y="421.2" font-size="25.5" text-anchor="end" font-family="'Liberation Sans', sans-serif">0.7</text>
<text x="512.5" y="529.5" font-size="25.5" text-anchor="end" font-family="'Liberation Sans', sans-serif">0.0</text>
<line x1="480.7" y1="355.3" x2="480.7" y2="387.8" stroke="#000" stroke-width="1.9"/>
<line x1="508.3" y1="355.3" x2="508.3" y2="387.8" stroke="#000" stroke-width="1.9"/>
<text x="494.5" y="381.2" font-size="34" text-anchor="middle" font-family="'Liberation Serif', serif">φ</text>
<line x1="538.40" y1="528.50" x2="533.75" y2="531.61" stroke="#333" stroke-width="1"/>
<text x="529.45" y="555.70" font-size="28" text-anchor="middle" font-family="'Liberation Sans', sans-serif">0</text>
<line x1="621.00" y1="534.30" x2="616.35" y2="537.40" stroke="#333" stroke-width="1"/>
<text x="612.40" y="563.30" font-size="28" text-anchor="middle" font-family="'Liberation Sans', sans-serif">2</text>
<line x1="703.60" y1="540.10" x2="698.94" y2="543.21" stroke="#333" stroke-width="1"/>
<text x="695.10" y="568.00" font-size="28" text-anchor="middle" font-family="'Liberation Sans', sans-serif">4</text>
<line x1="786.20" y1="545.90" x2="781.54" y2="549.00" stroke="#333" stroke-width="1"/>
<text x="778.95" y="574.20" font-size="28" text-anchor="middle" font-family="'Liberation Sans', sans-serif">6</text>
<line x1="806.85" y1="547.35" x2="815.11" y2="547.93" stroke="#333" stroke-width="1"/>
<line x1="853.40" y1="516.30" x2="861.66" y2="516.88" stroke="#333" stroke-width="1"/>
<line x1="899.95" y1="485.25" x2="908.21" y2="485.83" stroke="#333" stroke-width="1"/>
<text x="817.4" y="572.5" font-size="28" text-anchor="middle" font-family="'Liberation Sans', sans-serif">0</text>
<path transform="translate(850.15 541.30) scale(0.01367 -0.01367)" d="M763 0H583V1147Q518 1085 412.5 1023T223 930V1104Q374 1175 487 1276T647 1472H763Z" fill="#000"/>
<text x="865.72" y="541.3" font-size="28" font-family="'Liberation Sans', sans-serif">00</text>
<text x="898.2" y="509.7" font-size="28" font-family="'Liberation Sans', sans-serif">200</text>
<text transform="translate(919 553.5) rotate(-42)" font-size="28" text-anchor="middle" font-family="'Liberation Sans', sans-serif">Site</text>
<text x="652" y="592.5" font-size="26" text-anchor="middle" font-family="'Liberation Sans', sans-serif" font-style="italic">Ω/κ</text>
<path d="M585.8 518.7 L590.8 533.1 L580.7 538.9 Z" fill="#1f6fb5"/>
<path d="M625.6 528.8 L632.8 523.7 L629.2 543.3 Z" fill="#6a3a9a"/>
<path d="M649.4 523.7 L650.6 533.6 L655.2 535.3 L650.6 537 L649.4 545.4 L648.2 537 L644.4 535.3 L648.2 533.6 Z" fill="#b8202a"/>
</svg></body></html>
